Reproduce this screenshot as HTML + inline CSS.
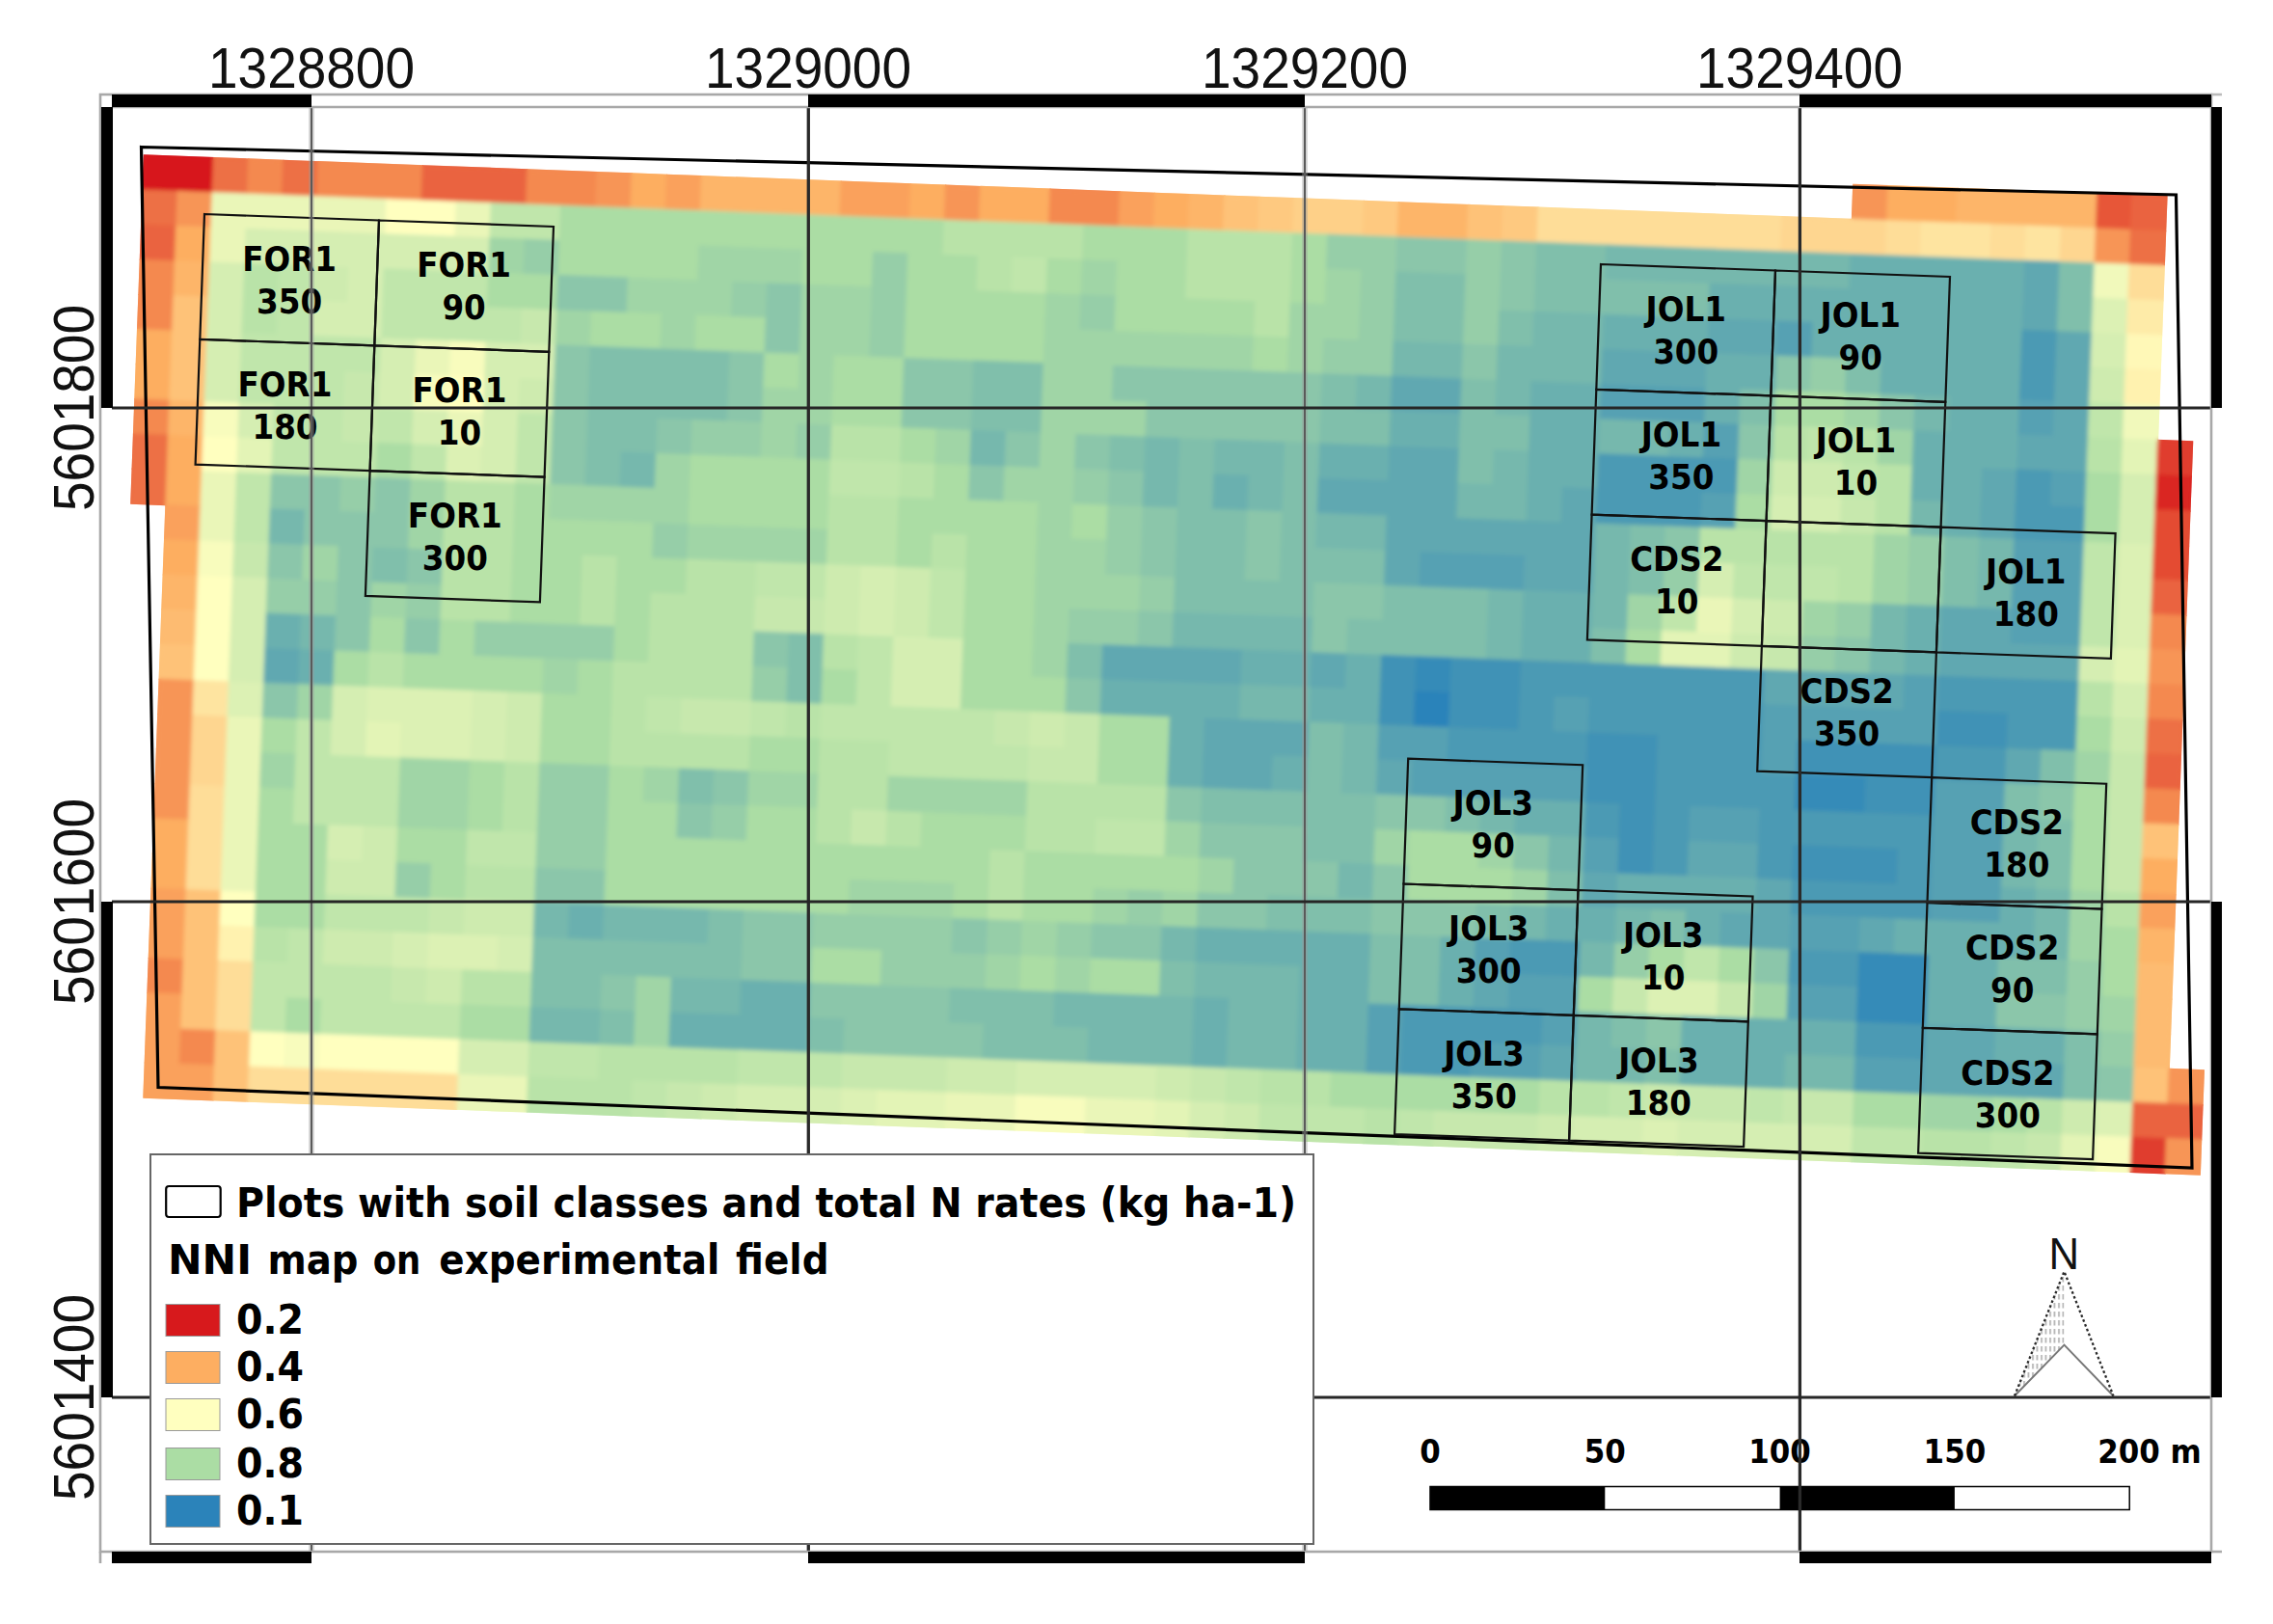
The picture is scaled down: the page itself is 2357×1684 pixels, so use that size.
<!DOCTYPE html>
<html lang="en"><head><meta charset="utf-8"><title>NNI map on experimental field</title>
<style>html,body{margin:0;padding:0;background:#fff}svg{display:block}.t{font-family:"Liberation Sans",sans-serif;font-size:55px;fill:#111}.b{font-family:"DejaVu Sans","Liberation Sans",sans-serif;font-weight:bold;fill:#000}.pl{font-size:35.5px;text-anchor:middle}.lg{font-size:42px}.sb{font-size:34px;text-anchor:middle}</style></head><body>
<svg width="2357" height="1684" viewBox="0 0 2357 1684">
<rect width="2357" height="1684" fill="#fff"/>
<defs><filter id="bl" x="-2%" y="-2%" width="104%" height="104%"><feGaussianBlur stdDeviation="2.2"/></filter>
<clipPath id="rc" transform="translate(148.8,160.3) rotate(2.15) scale(36.17)"><rect x="49" y="-1" width="9.03" height="1.03"/><rect x="0" y="0" width="58.03" height="1.03"/><rect x="0" y="1" width="58.03" height="1.03"/><rect x="0" y="2" width="58.03" height="1.03"/><rect x="0" y="3" width="58.03" height="1.03"/><rect x="0" y="4" width="58.03" height="1.03"/><rect x="0" y="5" width="58.03" height="1.03"/><rect x="0" y="6" width="59.03" height="1.03"/><rect x="0" y="7" width="59.03" height="1.03"/><rect x="0" y="8" width="59.03" height="1.03"/><rect x="0" y="9" width="59.03" height="1.03"/><rect x="1" y="10" width="58.03" height="1.03"/><rect x="1" y="11" width="58.03" height="1.03"/><rect x="1" y="12" width="58.03" height="1.03"/><rect x="1" y="13" width="58.03" height="1.03"/><rect x="1" y="14" width="58.03" height="1.03"/><rect x="1" y="15" width="58.03" height="1.03"/><rect x="1" y="16" width="58.03" height="1.03"/><rect x="1" y="17" width="58.03" height="1.03"/><rect x="1" y="18" width="58.03" height="1.03"/><rect x="1" y="19" width="58.03" height="1.03"/><rect x="1" y="20" width="58.03" height="1.03"/><rect x="1" y="21" width="58.03" height="1.03"/><rect x="1" y="22" width="58.03" height="1.03"/><rect x="1" y="23" width="58.03" height="1.03"/><rect x="1" y="24" width="59.03" height="1.03"/><rect x="1" y="25" width="59.03" height="1.03"/><rect x="1" y="26" width="59.03" height="1.03"/></clipPath></defs>
<g id="rs" transform="translate(148.8,160.3) rotate(2.15) scale(36.17)">
<rect x="49" y="-1" width="1.03" height="1.03" fill="#f79556"/>
<rect x="50" y="-1" width="2.03" height="1.03" fill="#fdae61"/>
<rect x="52" y="-1" width="4.03" height="1.03" fill="#fdb569"/>
<rect x="56" y="-1" width="1.03" height="1.03" fill="#e75739"/>
<rect x="57" y="-1" width="1.03" height="1.03" fill="#ea643f"/>
<rect x="0" y="0" width="2.03" height="1.03" fill="#d7191c"/>
<rect x="2" y="0" width="1.03" height="1.03" fill="#ed7044"/>
<rect x="3" y="0" width="1.03" height="1.03" fill="#f48950"/>
<rect x="4" y="0" width="1.03" height="1.03" fill="#ed7044"/>
<rect x="5" y="0" width="3.03" height="1.03" fill="#f48950"/>
<rect x="8" y="0" width="3.03" height="1.03" fill="#ea643f"/>
<rect x="11" y="0" width="2.03" height="1.03" fill="#f48950"/>
<rect x="13" y="0" width="1.03" height="1.03" fill="#f79556"/>
<rect x="14" y="0" width="1.03" height="1.03" fill="#fdae61"/>
<rect x="15" y="0" width="1.03" height="1.03" fill="#faa15b"/>
<rect x="16" y="0" width="4.03" height="1.03" fill="#fdb569"/>
<rect x="20" y="0" width="2.03" height="1.03" fill="#faa15b"/>
<rect x="22" y="0" width="1.03" height="1.03" fill="#fdae61"/>
<rect x="23" y="0" width="1.03" height="1.03" fill="#f79556"/>
<rect x="24" y="0" width="2.03" height="1.03" fill="#fdae61"/>
<rect x="26" y="0" width="2.03" height="1.03" fill="#f48950"/>
<rect x="28" y="0" width="1.03" height="1.03" fill="#faa15b"/>
<rect x="29" y="0" width="1.03" height="1.03" fill="#fdae61"/>
<rect x="30" y="0" width="1.03" height="1.03" fill="#fdb569"/>
<rect x="31" y="0" width="1.03" height="1.03" fill="#fec278"/>
<rect x="32" y="0" width="1.03" height="1.03" fill="#fec980"/>
<rect x="33" y="0" width="2.03" height="1.03" fill="#fed088"/>
<rect x="35" y="0" width="1.03" height="1.03" fill="#fec980"/>
<rect x="36" y="0" width="2.03" height="1.03" fill="#fdb569"/>
<rect x="38" y="0" width="1.03" height="1.03" fill="#fec278"/>
<rect x="39" y="0" width="1.03" height="1.03" fill="#fec980"/>
<rect x="40" y="0" width="7.03" height="1.03" fill="#fedd98"/>
<rect x="47" y="0" width="3.03" height="1.03" fill="#fed690"/>
<rect x="50" y="0" width="1.03" height="1.03" fill="#fedd98"/>
<rect x="51" y="0" width="2.03" height="1.03" fill="#fee4a0"/>
<rect x="53" y="0" width="1.03" height="1.03" fill="#fedd98"/>
<rect x="54" y="0" width="1.03" height="1.03" fill="#fee4a0"/>
<rect x="55" y="0" width="1.03" height="1.03" fill="#fed690"/>
<rect x="56" y="0" width="1.03" height="1.03" fill="#f79556"/>
<rect x="57" y="0" width="1.03" height="1.03" fill="#ed7044"/>
<rect x="0" y="1" width="1.03" height="1.03" fill="#ed7044"/>
<rect x="1" y="1" width="1.03" height="1.03" fill="#f79556"/>
<rect x="2" y="1" width="5.03" height="1.03" fill="#eaf6b8"/>
<rect x="7" y="1" width="2.03" height="1.03" fill="#ffffbf"/>
<rect x="9" y="1" width="1.03" height="1.03" fill="#eaf6b8"/>
<rect x="10" y="1" width="2.03" height="1.03" fill="#c0e6ab"/>
<rect x="12" y="1" width="11.03" height="1.03" fill="#abdda4"/>
<rect x="23" y="1" width="4.03" height="1.03" fill="#b9e3a8"/>
<rect x="27" y="1" width="3.03" height="1.03" fill="#abdda4"/>
<rect x="30" y="1" width="3.03" height="1.03" fill="#b9e3a8"/>
<rect x="33" y="1" width="1.03" height="1.03" fill="#abdda4"/>
<rect x="34" y="1" width="2.03" height="1.03" fill="#96cea8"/>
<rect x="36" y="1" width="2.03" height="1.03" fill="#8bc6aa"/>
<rect x="38" y="1" width="1.03" height="1.03" fill="#96cea8"/>
<rect x="39" y="1" width="1.03" height="1.03" fill="#8bc6aa"/>
<rect x="40" y="1" width="2.03" height="1.03" fill="#80bfab"/>
<rect x="42" y="1" width="7.03" height="1.03" fill="#76b8ad"/>
<rect x="49" y="1" width="5.03" height="1.03" fill="#6bb0af"/>
<rect x="54" y="1" width="1.03" height="1.03" fill="#60a8b1"/>
<rect x="55" y="1" width="1.03" height="1.03" fill="#80bfab"/>
<rect x="56" y="1" width="1.03" height="1.03" fill="#f1f9bb"/>
<rect x="57" y="1" width="1.03" height="1.03" fill="#fedd98"/>
<rect x="0" y="2" width="1.03" height="1.03" fill="#ea643f"/>
<rect x="1" y="2" width="1.03" height="1.03" fill="#fdae61"/>
<rect x="2" y="2" width="1.03" height="1.03" fill="#eaf6b8"/>
<rect x="3" y="2" width="7.03" height="1.03" fill="#d5eeb2"/>
<rect x="10" y="2" width="1.03" height="1.03" fill="#a0d5a6"/>
<rect x="11" y="2" width="1.03" height="1.03" fill="#96cea8"/>
<rect x="12" y="2" width="4.03" height="1.03" fill="#abdda4"/>
<rect x="16" y="2" width="3.03" height="1.03" fill="#a0d5a6"/>
<rect x="19" y="2" width="2.03" height="1.03" fill="#abdda4"/>
<rect x="21" y="2" width="1.03" height="1.03" fill="#96cea8"/>
<rect x="22" y="2" width="2.03" height="1.03" fill="#abdda4"/>
<rect x="24" y="2" width="1.03" height="1.03" fill="#b9e3a8"/>
<rect x="25" y="2" width="1.03" height="1.03" fill="#c0e6ab"/>
<rect x="26" y="2" width="1.03" height="1.03" fill="#abdda4"/>
<rect x="27" y="2" width="1.03" height="1.03" fill="#a0d5a6"/>
<rect x="28" y="2" width="2.03" height="1.03" fill="#abdda4"/>
<rect x="30" y="2" width="3.03" height="1.03" fill="#b9e3a8"/>
<rect x="33" y="2" width="1.03" height="1.03" fill="#abdda4"/>
<rect x="34" y="2" width="1.03" height="1.03" fill="#a0d5a6"/>
<rect x="35" y="2" width="1.03" height="1.03" fill="#96cea8"/>
<rect x="36" y="2" width="2.03" height="1.03" fill="#80bfab"/>
<rect x="38" y="2" width="1.03" height="1.03" fill="#96cea8"/>
<rect x="39" y="2" width="1.03" height="1.03" fill="#8bc6aa"/>
<rect x="40" y="2" width="5.03" height="1.03" fill="#80bfab"/>
<rect x="45" y="2" width="9.03" height="1.03" fill="#6bb0af"/>
<rect x="54" y="2" width="1.03" height="1.03" fill="#60a8b1"/>
<rect x="55" y="2" width="1.03" height="1.03" fill="#80bfab"/>
<rect x="56" y="2" width="1.03" height="1.03" fill="#dcf1b4"/>
<rect x="57" y="2" width="1.03" height="1.03" fill="#feeba8"/>
<rect x="0" y="3" width="1.03" height="1.03" fill="#f48950"/>
<rect x="1" y="3" width="1.03" height="1.03" fill="#fdb569"/>
<rect x="2" y="3" width="1.03" height="1.03" fill="#d5eeb2"/>
<rect x="3" y="3" width="1.03" height="1.03" fill="#b9e3a8"/>
<rect x="4" y="3" width="1.03" height="1.03" fill="#c0e6ab"/>
<rect x="5" y="3" width="1.03" height="1.03" fill="#ceebaf"/>
<rect x="6" y="3" width="1.03" height="1.03" fill="#d5eeb2"/>
<rect x="7" y="3" width="3.03" height="1.03" fill="#c0e6ab"/>
<rect x="10" y="3" width="2.03" height="1.03" fill="#abdda4"/>
<rect x="12" y="3" width="2.03" height="1.03" fill="#8bc6aa"/>
<rect x="14" y="3" width="3.03" height="1.03" fill="#a0d5a6"/>
<rect x="17" y="3" width="1.03" height="1.03" fill="#96cea8"/>
<rect x="18" y="3" width="1.03" height="1.03" fill="#8bc6aa"/>
<rect x="19" y="3" width="2.03" height="1.03" fill="#a0d5a6"/>
<rect x="21" y="3" width="1.03" height="1.03" fill="#96cea8"/>
<rect x="22" y="3" width="4.03" height="1.03" fill="#abdda4"/>
<rect x="26" y="3" width="1.03" height="1.03" fill="#a0d5a6"/>
<rect x="27" y="3" width="1.03" height="1.03" fill="#96cea8"/>
<rect x="28" y="3" width="4.03" height="1.03" fill="#abdda4"/>
<rect x="32" y="3" width="1.03" height="1.03" fill="#b9e3a8"/>
<rect x="33" y="3" width="2.03" height="1.03" fill="#a0d5a6"/>
<rect x="35" y="3" width="1.03" height="1.03" fill="#96cea8"/>
<rect x="36" y="3" width="2.03" height="1.03" fill="#80bfab"/>
<rect x="38" y="3" width="1.03" height="1.03" fill="#96cea8"/>
<rect x="39" y="3" width="1.03" height="1.03" fill="#80bfab"/>
<rect x="40" y="3" width="2.03" height="1.03" fill="#76b8ad"/>
<rect x="42" y="3" width="3.03" height="1.03" fill="#6bb0af"/>
<rect x="45" y="3" width="2.03" height="1.03" fill="#60a8b1"/>
<rect x="47" y="3" width="1.03" height="1.03" fill="#56a1b3"/>
<rect x="48" y="3" width="6.03" height="1.03" fill="#6bb0af"/>
<rect x="54" y="3" width="1.03" height="1.03" fill="#4b9ab4"/>
<rect x="55" y="3" width="1.03" height="1.03" fill="#60a8b1"/>
<rect x="56" y="3" width="1.03" height="1.03" fill="#d5eeb2"/>
<rect x="57" y="3" width="1.03" height="1.03" fill="#fff8b7"/>
<rect x="0" y="4" width="1.03" height="1.03" fill="#f48950"/>
<rect x="1" y="4" width="1.03" height="1.03" fill="#fec278"/>
<rect x="2" y="4" width="1.03" height="1.03" fill="#d5eeb2"/>
<rect x="3" y="4" width="1.03" height="1.03" fill="#b9e3a8"/>
<rect x="4" y="4" width="1.03" height="1.03" fill="#c0e6ab"/>
<rect x="5" y="4" width="2.03" height="1.03" fill="#d5eeb2"/>
<rect x="7" y="4" width="4.03" height="1.03" fill="#c0e6ab"/>
<rect x="11" y="4" width="1.03" height="1.03" fill="#c7e8ad"/>
<rect x="12" y="4" width="1.03" height="1.03" fill="#a0d5a6"/>
<rect x="13" y="4" width="2.03" height="1.03" fill="#abdda4"/>
<rect x="15" y="4" width="1.03" height="1.03" fill="#a0d5a6"/>
<rect x="16" y="4" width="2.03" height="1.03" fill="#abdda4"/>
<rect x="18" y="4" width="1.03" height="1.03" fill="#8bc6aa"/>
<rect x="19" y="4" width="2.03" height="1.03" fill="#a0d5a6"/>
<rect x="21" y="4" width="1.03" height="1.03" fill="#96cea8"/>
<rect x="22" y="4" width="4.03" height="1.03" fill="#abdda4"/>
<rect x="26" y="4" width="6.03" height="1.03" fill="#a0d5a6"/>
<rect x="32" y="4" width="1.03" height="1.03" fill="#abdda4"/>
<rect x="33" y="4" width="1.03" height="1.03" fill="#a0d5a6"/>
<rect x="34" y="4" width="2.03" height="1.03" fill="#96cea8"/>
<rect x="36" y="4" width="2.03" height="1.03" fill="#76b8ad"/>
<rect x="38" y="4" width="1.03" height="1.03" fill="#8bc6aa"/>
<rect x="39" y="4" width="3.03" height="1.03" fill="#76b8ad"/>
<rect x="42" y="4" width="3.03" height="1.03" fill="#60a8b1"/>
<rect x="45" y="4" width="2.03" height="1.03" fill="#6bb0af"/>
<rect x="47" y="4" width="1.03" height="1.03" fill="#8bc6aa"/>
<rect x="48" y="4" width="1.03" height="1.03" fill="#96cea8"/>
<rect x="49" y="4" width="1.03" height="1.03" fill="#80bfab"/>
<rect x="50" y="4" width="4.03" height="1.03" fill="#6bb0af"/>
<rect x="54" y="4" width="1.03" height="1.03" fill="#4b9ab4"/>
<rect x="55" y="4" width="1.03" height="1.03" fill="#60a8b1"/>
<rect x="56" y="4" width="1.03" height="1.03" fill="#ceebaf"/>
<rect x="57" y="4" width="1.03" height="1.03" fill="#fff2af"/>
<rect x="0" y="5" width="1.03" height="1.03" fill="#fdae61"/>
<rect x="1" y="5" width="1.03" height="1.03" fill="#fec278"/>
<rect x="2" y="5" width="1.03" height="1.03" fill="#d5eeb2"/>
<rect x="3" y="5" width="4.03" height="1.03" fill="#c0e6ab"/>
<rect x="7" y="5" width="1.03" height="1.03" fill="#d5eeb2"/>
<rect x="8" y="5" width="1.03" height="1.03" fill="#eaf6b8"/>
<rect x="9" y="5" width="1.03" height="1.03" fill="#f8fcbd"/>
<rect x="10" y="5" width="2.03" height="1.03" fill="#d5eeb2"/>
<rect x="12" y="5" width="1.03" height="1.03" fill="#8bc6aa"/>
<rect x="13" y="5" width="4.03" height="1.03" fill="#80bfab"/>
<rect x="17" y="5" width="1.03" height="1.03" fill="#8bc6aa"/>
<rect x="18" y="5" width="1.03" height="1.03" fill="#abdda4"/>
<rect x="19" y="5" width="1.03" height="1.03" fill="#a0d5a6"/>
<rect x="20" y="5" width="2.03" height="1.03" fill="#abdda4"/>
<rect x="22" y="5" width="2.03" height="1.03" fill="#8bc6aa"/>
<rect x="24" y="5" width="2.03" height="1.03" fill="#80bfab"/>
<rect x="26" y="5" width="2.03" height="1.03" fill="#a0d5a6"/>
<rect x="28" y="5" width="6.03" height="1.03" fill="#8bc6aa"/>
<rect x="34" y="5" width="1.03" height="1.03" fill="#80bfab"/>
<rect x="35" y="5" width="1.03" height="1.03" fill="#76b8ad"/>
<rect x="36" y="5" width="2.03" height="1.03" fill="#60a8b1"/>
<rect x="38" y="5" width="1.03" height="1.03" fill="#80bfab"/>
<rect x="39" y="5" width="1.03" height="1.03" fill="#76b8ad"/>
<rect x="40" y="5" width="2.03" height="1.03" fill="#6bb0af"/>
<rect x="42" y="5" width="3.03" height="1.03" fill="#56a1b3"/>
<rect x="45" y="5" width="1.03" height="1.03" fill="#6bb0af"/>
<rect x="46" y="5" width="1.03" height="1.03" fill="#80bfab"/>
<rect x="47" y="5" width="2.03" height="1.03" fill="#abdda4"/>
<rect x="49" y="5" width="1.03" height="1.03" fill="#a0d5a6"/>
<rect x="50" y="5" width="1.03" height="1.03" fill="#8bc6aa"/>
<rect x="51" y="5" width="1.03" height="1.03" fill="#76b8ad"/>
<rect x="52" y="5" width="2.03" height="1.03" fill="#6bb0af"/>
<rect x="54" y="5" width="1.03" height="1.03" fill="#56a1b3"/>
<rect x="55" y="5" width="1.03" height="1.03" fill="#60a8b1"/>
<rect x="56" y="5" width="1.03" height="1.03" fill="#c0e6ab"/>
<rect x="57" y="5" width="1.03" height="1.03" fill="#f1f9bb"/>
<rect x="0" y="6" width="1.03" height="1.03" fill="#fdae61"/>
<rect x="1" y="6" width="1.03" height="1.03" fill="#fec278"/>
<rect x="2" y="6" width="1.03" height="1.03" fill="#d5eeb2"/>
<rect x="3" y="6" width="3.03" height="1.03" fill="#c0e6ab"/>
<rect x="6" y="6" width="1.03" height="1.03" fill="#c7e8ad"/>
<rect x="7" y="6" width="1.03" height="1.03" fill="#d5eeb2"/>
<rect x="8" y="6" width="1.03" height="1.03" fill="#f8fcbd"/>
<rect x="9" y="6" width="1.03" height="1.03" fill="#ffffbf"/>
<rect x="10" y="6" width="1.03" height="1.03" fill="#d5eeb2"/>
<rect x="11" y="6" width="1.03" height="1.03" fill="#ceebaf"/>
<rect x="12" y="6" width="1.03" height="1.03" fill="#8bc6aa"/>
<rect x="13" y="6" width="4.03" height="1.03" fill="#80bfab"/>
<rect x="17" y="6" width="1.03" height="1.03" fill="#8bc6aa"/>
<rect x="18" y="6" width="2.03" height="1.03" fill="#a0d5a6"/>
<rect x="20" y="6" width="2.03" height="1.03" fill="#abdda4"/>
<rect x="22" y="6" width="2.03" height="1.03" fill="#8bc6aa"/>
<rect x="24" y="6" width="2.03" height="1.03" fill="#80bfab"/>
<rect x="26" y="6" width="3.03" height="1.03" fill="#a0d5a6"/>
<rect x="29" y="6" width="5.03" height="1.03" fill="#8bc6aa"/>
<rect x="34" y="6" width="2.03" height="1.03" fill="#80bfab"/>
<rect x="36" y="6" width="2.03" height="1.03" fill="#6bb0af"/>
<rect x="38" y="6" width="2.03" height="1.03" fill="#80bfab"/>
<rect x="40" y="6" width="2.03" height="1.03" fill="#6bb0af"/>
<rect x="42" y="6" width="2.03" height="1.03" fill="#76b8ad"/>
<rect x="44" y="6" width="1.03" height="1.03" fill="#6bb0af"/>
<rect x="45" y="6" width="1.03" height="1.03" fill="#56a1b3"/>
<rect x="46" y="6" width="1.03" height="1.03" fill="#8bc6aa"/>
<rect x="47" y="6" width="1.03" height="1.03" fill="#b9e3a8"/>
<rect x="48" y="6" width="1.03" height="1.03" fill="#c0e6ab"/>
<rect x="49" y="6" width="1.03" height="1.03" fill="#b9e3a8"/>
<rect x="50" y="6" width="1.03" height="1.03" fill="#a0d5a6"/>
<rect x="51" y="6" width="3.03" height="1.03" fill="#6bb0af"/>
<rect x="54" y="6" width="2.03" height="1.03" fill="#60a8b1"/>
<rect x="56" y="6" width="1.03" height="1.03" fill="#b9e3a8"/>
<rect x="57" y="6" width="1.03" height="1.03" fill="#e3f4b6"/>
<rect x="58" y="6" width="1.03" height="1.03" fill="#e03e2d"/>
<rect x="0" y="7" width="1.03" height="1.03" fill="#f48950"/>
<rect x="1" y="7" width="1.03" height="1.03" fill="#fdb569"/>
<rect x="2" y="7" width="1.03" height="1.03" fill="#f8fcbd"/>
<rect x="3" y="7" width="1.03" height="1.03" fill="#d5eeb2"/>
<rect x="4" y="7" width="2.03" height="1.03" fill="#c0e6ab"/>
<rect x="6" y="7" width="1.03" height="1.03" fill="#c7e8ad"/>
<rect x="7" y="7" width="1.03" height="1.03" fill="#c0e6ab"/>
<rect x="8" y="7" width="1.03" height="1.03" fill="#d5eeb2"/>
<rect x="9" y="7" width="1.03" height="1.03" fill="#eaf6b8"/>
<rect x="10" y="7" width="1.03" height="1.03" fill="#d5eeb2"/>
<rect x="11" y="7" width="1.03" height="1.03" fill="#c0e6ab"/>
<rect x="12" y="7" width="1.03" height="1.03" fill="#8bc6aa"/>
<rect x="13" y="7" width="2.03" height="1.03" fill="#80bfab"/>
<rect x="15" y="7" width="1.03" height="1.03" fill="#8bc6aa"/>
<rect x="16" y="7" width="2.03" height="1.03" fill="#96cea8"/>
<rect x="18" y="7" width="1.03" height="1.03" fill="#a0d5a6"/>
<rect x="19" y="7" width="1.03" height="1.03" fill="#96cea8"/>
<rect x="20" y="7" width="2.03" height="1.03" fill="#b9e3a8"/>
<rect x="22" y="7" width="1.03" height="1.03" fill="#abdda4"/>
<rect x="23" y="7" width="1.03" height="1.03" fill="#a0d5a6"/>
<rect x="24" y="7" width="1.03" height="1.03" fill="#76b8ad"/>
<rect x="25" y="7" width="1.03" height="1.03" fill="#8bc6aa"/>
<rect x="26" y="7" width="1.03" height="1.03" fill="#a0d5a6"/>
<rect x="27" y="7" width="1.03" height="1.03" fill="#8bc6aa"/>
<rect x="28" y="7" width="1.03" height="1.03" fill="#80bfab"/>
<rect x="29" y="7" width="1.03" height="1.03" fill="#76b8ad"/>
<rect x="30" y="7" width="1.03" height="1.03" fill="#80bfab"/>
<rect x="31" y="7" width="2.03" height="1.03" fill="#76b8ad"/>
<rect x="33" y="7" width="1.03" height="1.03" fill="#80bfab"/>
<rect x="34" y="7" width="2.03" height="1.03" fill="#6bb0af"/>
<rect x="36" y="7" width="2.03" height="1.03" fill="#60a8b1"/>
<rect x="38" y="7" width="1.03" height="1.03" fill="#80bfab"/>
<rect x="39" y="7" width="1.03" height="1.03" fill="#76b8ad"/>
<rect x="40" y="7" width="2.03" height="1.03" fill="#6bb0af"/>
<rect x="42" y="7" width="4.03" height="1.03" fill="#4b9ab4"/>
<rect x="46" y="7" width="1.03" height="1.03" fill="#a0d5a6"/>
<rect x="47" y="7" width="2.03" height="1.03" fill="#ceebaf"/>
<rect x="49" y="7" width="1.03" height="1.03" fill="#c0e6ab"/>
<rect x="50" y="7" width="1.03" height="1.03" fill="#b9e3a8"/>
<rect x="51" y="7" width="2.03" height="1.03" fill="#6bb0af"/>
<rect x="53" y="7" width="1.03" height="1.03" fill="#60a8b1"/>
<rect x="54" y="7" width="1.03" height="1.03" fill="#4b9ab4"/>
<rect x="55" y="7" width="1.03" height="1.03" fill="#56a1b3"/>
<rect x="56" y="7" width="1.03" height="1.03" fill="#abdda4"/>
<rect x="57" y="7" width="1.03" height="1.03" fill="#d5eeb2"/>
<rect x="58" y="7" width="1.03" height="1.03" fill="#da2622"/>
<rect x="0" y="8" width="1.03" height="1.03" fill="#ed7044"/>
<rect x="1" y="8" width="1.03" height="1.03" fill="#fdae61"/>
<rect x="2" y="8" width="1.03" height="1.03" fill="#ffffbf"/>
<rect x="3" y="8" width="1.03" height="1.03" fill="#e3f4b6"/>
<rect x="4" y="8" width="3.03" height="1.03" fill="#c0e6ab"/>
<rect x="7" y="8" width="1.03" height="1.03" fill="#abdda4"/>
<rect x="8" y="8" width="1.03" height="1.03" fill="#c0e6ab"/>
<rect x="9" y="8" width="1.03" height="1.03" fill="#dcf1b4"/>
<rect x="10" y="8" width="1.03" height="1.03" fill="#d5eeb2"/>
<rect x="11" y="8" width="1.03" height="1.03" fill="#c0e6ab"/>
<rect x="12" y="8" width="1.03" height="1.03" fill="#8bc6aa"/>
<rect x="13" y="8" width="1.03" height="1.03" fill="#80bfab"/>
<rect x="14" y="8" width="1.03" height="1.03" fill="#76b8ad"/>
<rect x="15" y="8" width="1.03" height="1.03" fill="#a0d5a6"/>
<rect x="16" y="8" width="4.03" height="1.03" fill="#abdda4"/>
<rect x="20" y="8" width="2.03" height="1.03" fill="#c0e6ab"/>
<rect x="22" y="8" width="1.03" height="1.03" fill="#b9e3a8"/>
<rect x="23" y="8" width="1.03" height="1.03" fill="#abdda4"/>
<rect x="24" y="8" width="1.03" height="1.03" fill="#8bc6aa"/>
<rect x="25" y="8" width="2.03" height="1.03" fill="#a0d5a6"/>
<rect x="27" y="8" width="1.03" height="1.03" fill="#96cea8"/>
<rect x="28" y="8" width="1.03" height="1.03" fill="#8bc6aa"/>
<rect x="29" y="8" width="1.03" height="1.03" fill="#76b8ad"/>
<rect x="30" y="8" width="1.03" height="1.03" fill="#80bfab"/>
<rect x="31" y="8" width="1.03" height="1.03" fill="#6bb0af"/>
<rect x="32" y="8" width="1.03" height="1.03" fill="#76b8ad"/>
<rect x="33" y="8" width="1.03" height="1.03" fill="#80bfab"/>
<rect x="34" y="8" width="4.03" height="1.03" fill="#60a8b1"/>
<rect x="38" y="8" width="2.03" height="1.03" fill="#76b8ad"/>
<rect x="40" y="8" width="1.03" height="1.03" fill="#6bb0af"/>
<rect x="41" y="8" width="1.03" height="1.03" fill="#60a8b1"/>
<rect x="42" y="8" width="3.03" height="1.03" fill="#4b9ab4"/>
<rect x="45" y="8" width="1.03" height="1.03" fill="#56a1b3"/>
<rect x="46" y="8" width="1.03" height="1.03" fill="#abdda4"/>
<rect x="47" y="8" width="2.03" height="1.03" fill="#d5eeb2"/>
<rect x="49" y="8" width="1.03" height="1.03" fill="#c7e8ad"/>
<rect x="50" y="8" width="1.03" height="1.03" fill="#b9e3a8"/>
<rect x="51" y="8" width="1.03" height="1.03" fill="#76b8ad"/>
<rect x="52" y="8" width="1.03" height="1.03" fill="#6bb0af"/>
<rect x="53" y="8" width="1.03" height="1.03" fill="#60a8b1"/>
<rect x="54" y="8" width="2.03" height="1.03" fill="#4b9ab4"/>
<rect x="56" y="8" width="1.03" height="1.03" fill="#abdda4"/>
<rect x="57" y="8" width="1.03" height="1.03" fill="#d5eeb2"/>
<rect x="58" y="8" width="1.03" height="1.03" fill="#e44b33"/>
<rect x="0" y="9" width="1.03" height="1.03" fill="#ed7044"/>
<rect x="1" y="9" width="1.03" height="1.03" fill="#fdae61"/>
<rect x="2" y="9" width="1.03" height="1.03" fill="#eaf6b8"/>
<rect x="3" y="9" width="1.03" height="1.03" fill="#c0e6ab"/>
<rect x="4" y="9" width="2.03" height="1.03" fill="#8bc6aa"/>
<rect x="6" y="9" width="1.03" height="1.03" fill="#96cea8"/>
<rect x="7" y="9" width="1.03" height="1.03" fill="#8bc6aa"/>
<rect x="8" y="9" width="1.03" height="1.03" fill="#a0d5a6"/>
<rect x="9" y="9" width="2.03" height="1.03" fill="#b9e3a8"/>
<rect x="11" y="9" width="1.03" height="1.03" fill="#abdda4"/>
<rect x="12" y="9" width="4.03" height="1.03" fill="#a0d5a6"/>
<rect x="16" y="9" width="4.03" height="1.03" fill="#abdda4"/>
<rect x="20" y="9" width="2.03" height="1.03" fill="#b9e3a8"/>
<rect x="22" y="9" width="4.03" height="1.03" fill="#abdda4"/>
<rect x="26" y="9" width="1.03" height="1.03" fill="#a0d5a6"/>
<rect x="27" y="9" width="1.03" height="1.03" fill="#abdda4"/>
<rect x="28" y="9" width="1.03" height="1.03" fill="#96cea8"/>
<rect x="29" y="9" width="1.03" height="1.03" fill="#8bc6aa"/>
<rect x="30" y="9" width="2.03" height="1.03" fill="#80bfab"/>
<rect x="32" y="9" width="1.03" height="1.03" fill="#8bc6aa"/>
<rect x="33" y="9" width="1.03" height="1.03" fill="#80bfab"/>
<rect x="34" y="9" width="2.03" height="1.03" fill="#76b8ad"/>
<rect x="36" y="9" width="6.03" height="1.03" fill="#60a8b1"/>
<rect x="42" y="9" width="1.03" height="1.03" fill="#76b8ad"/>
<rect x="43" y="9" width="1.03" height="1.03" fill="#80bfab"/>
<rect x="44" y="9" width="1.03" height="1.03" fill="#8bc6aa"/>
<rect x="45" y="9" width="5.03" height="1.03" fill="#b9e3a8"/>
<rect x="50" y="9" width="1.03" height="1.03" fill="#a0d5a6"/>
<rect x="51" y="9" width="1.03" height="1.03" fill="#96cea8"/>
<rect x="52" y="9" width="1.03" height="1.03" fill="#80bfab"/>
<rect x="53" y="9" width="1.03" height="1.03" fill="#76b8ad"/>
<rect x="54" y="9" width="2.03" height="1.03" fill="#56a1b3"/>
<rect x="56" y="9" width="1.03" height="1.03" fill="#c0e6ab"/>
<rect x="57" y="9" width="1.03" height="1.03" fill="#dcf1b4"/>
<rect x="58" y="9" width="1.03" height="1.03" fill="#e44b33"/>
<rect x="1" y="10" width="1.03" height="1.03" fill="#faa15b"/>
<rect x="2" y="10" width="1.03" height="1.03" fill="#eaf6b8"/>
<rect x="3" y="10" width="1.03" height="1.03" fill="#c0e6ab"/>
<rect x="4" y="10" width="1.03" height="1.03" fill="#76b8ad"/>
<rect x="5" y="10" width="3.03" height="1.03" fill="#8bc6aa"/>
<rect x="8" y="10" width="1.03" height="1.03" fill="#a0d5a6"/>
<rect x="9" y="10" width="2.03" height="1.03" fill="#b9e3a8"/>
<rect x="11" y="10" width="4.03" height="1.03" fill="#abdda4"/>
<rect x="15" y="10" width="1.03" height="1.03" fill="#96cea8"/>
<rect x="16" y="10" width="4.03" height="1.03" fill="#a0d5a6"/>
<rect x="20" y="10" width="2.03" height="1.03" fill="#b9e3a8"/>
<rect x="22" y="10" width="1.03" height="1.03" fill="#abdda4"/>
<rect x="23" y="10" width="1.03" height="1.03" fill="#b9e3a8"/>
<rect x="24" y="10" width="2.03" height="1.03" fill="#abdda4"/>
<rect x="26" y="10" width="2.03" height="1.03" fill="#a0d5a6"/>
<rect x="28" y="10" width="1.03" height="1.03" fill="#96cea8"/>
<rect x="29" y="10" width="1.03" height="1.03" fill="#8bc6aa"/>
<rect x="30" y="10" width="2.03" height="1.03" fill="#80bfab"/>
<rect x="32" y="10" width="1.03" height="1.03" fill="#8bc6aa"/>
<rect x="33" y="10" width="3.03" height="1.03" fill="#80bfab"/>
<rect x="36" y="10" width="1.03" height="1.03" fill="#60a8b1"/>
<rect x="37" y="10" width="3.03" height="1.03" fill="#56a1b3"/>
<rect x="40" y="10" width="2.03" height="1.03" fill="#60a8b1"/>
<rect x="42" y="10" width="1.03" height="1.03" fill="#76b8ad"/>
<rect x="43" y="10" width="1.03" height="1.03" fill="#80bfab"/>
<rect x="44" y="10" width="1.03" height="1.03" fill="#96cea8"/>
<rect x="45" y="10" width="1.03" height="1.03" fill="#d5eeb2"/>
<rect x="46" y="10" width="3.03" height="1.03" fill="#c0e6ab"/>
<rect x="49" y="10" width="1.03" height="1.03" fill="#b9e3a8"/>
<rect x="50" y="10" width="1.03" height="1.03" fill="#a0d5a6"/>
<rect x="51" y="10" width="1.03" height="1.03" fill="#96cea8"/>
<rect x="52" y="10" width="1.03" height="1.03" fill="#80bfab"/>
<rect x="53" y="10" width="1.03" height="1.03" fill="#76b8ad"/>
<rect x="54" y="10" width="2.03" height="1.03" fill="#56a1b3"/>
<rect x="56" y="10" width="1.03" height="1.03" fill="#c0e6ab"/>
<rect x="57" y="10" width="1.03" height="1.03" fill="#dcf1b4"/>
<rect x="58" y="10" width="1.03" height="1.03" fill="#ea643f"/>
<rect x="1" y="11" width="1.03" height="1.03" fill="#fdae61"/>
<rect x="2" y="11" width="1.03" height="1.03" fill="#f8fcbd"/>
<rect x="3" y="11" width="1.03" height="1.03" fill="#c7e8ad"/>
<rect x="4" y="11" width="1.03" height="1.03" fill="#8bc6aa"/>
<rect x="5" y="11" width="1.03" height="1.03" fill="#a0d5a6"/>
<rect x="6" y="11" width="1.03" height="1.03" fill="#8bc6aa"/>
<rect x="7" y="11" width="1.03" height="1.03" fill="#80bfab"/>
<rect x="8" y="11" width="1.03" height="1.03" fill="#8bc6aa"/>
<rect x="9" y="11" width="2.03" height="1.03" fill="#b9e3a8"/>
<rect x="11" y="11" width="2.03" height="1.03" fill="#abdda4"/>
<rect x="13" y="11" width="1.03" height="1.03" fill="#b9e3a8"/>
<rect x="14" y="11" width="2.03" height="1.03" fill="#abdda4"/>
<rect x="16" y="11" width="2.03" height="1.03" fill="#b9e3a8"/>
<rect x="18" y="11" width="2.03" height="1.03" fill="#c0e6ab"/>
<rect x="20" y="11" width="1.03" height="1.03" fill="#ceebaf"/>
<rect x="21" y="11" width="1.03" height="1.03" fill="#d5eeb2"/>
<rect x="22" y="11" width="1.03" height="1.03" fill="#ceebaf"/>
<rect x="23" y="11" width="1.03" height="1.03" fill="#c0e6ab"/>
<rect x="24" y="11" width="2.03" height="1.03" fill="#abdda4"/>
<rect x="26" y="11" width="3.03" height="1.03" fill="#a0d5a6"/>
<rect x="29" y="11" width="1.03" height="1.03" fill="#96cea8"/>
<rect x="30" y="11" width="4.03" height="1.03" fill="#80bfab"/>
<rect x="34" y="11" width="2.03" height="1.03" fill="#8bc6aa"/>
<rect x="36" y="11" width="3.03" height="1.03" fill="#80bfab"/>
<rect x="39" y="11" width="1.03" height="1.03" fill="#76b8ad"/>
<rect x="40" y="11" width="2.03" height="1.03" fill="#6bb0af"/>
<rect x="42" y="11" width="1.03" height="1.03" fill="#76b8ad"/>
<rect x="43" y="11" width="1.03" height="1.03" fill="#a0d5a6"/>
<rect x="44" y="11" width="1.03" height="1.03" fill="#c0e6ab"/>
<rect x="45" y="11" width="1.03" height="1.03" fill="#eaf6b8"/>
<rect x="46" y="11" width="1.03" height="1.03" fill="#d5eeb2"/>
<rect x="47" y="11" width="1.03" height="1.03" fill="#ceebaf"/>
<rect x="48" y="11" width="1.03" height="1.03" fill="#a0d5a6"/>
<rect x="49" y="11" width="1.03" height="1.03" fill="#96cea8"/>
<rect x="50" y="11" width="1.03" height="1.03" fill="#76b8ad"/>
<rect x="51" y="11" width="1.03" height="1.03" fill="#6bb0af"/>
<rect x="52" y="11" width="2.03" height="1.03" fill="#60a8b1"/>
<rect x="54" y="11" width="2.03" height="1.03" fill="#56a1b3"/>
<rect x="56" y="11" width="1.03" height="1.03" fill="#c0e6ab"/>
<rect x="57" y="11" width="1.03" height="1.03" fill="#dcf1b4"/>
<rect x="58" y="11" width="1.03" height="1.03" fill="#f48950"/>
<rect x="1" y="12" width="1.03" height="1.03" fill="#fdb569"/>
<rect x="2" y="12" width="1.03" height="1.03" fill="#ffffbf"/>
<rect x="3" y="12" width="1.03" height="1.03" fill="#d5eeb2"/>
<rect x="4" y="12" width="2.03" height="1.03" fill="#96cea8"/>
<rect x="6" y="12" width="1.03" height="1.03" fill="#8bc6aa"/>
<rect x="7" y="12" width="1.03" height="1.03" fill="#a0d5a6"/>
<rect x="8" y="12" width="1.03" height="1.03" fill="#96cea8"/>
<rect x="9" y="12" width="2.03" height="1.03" fill="#b9e3a8"/>
<rect x="11" y="12" width="2.03" height="1.03" fill="#abdda4"/>
<rect x="13" y="12" width="1.03" height="1.03" fill="#b9e3a8"/>
<rect x="14" y="12" width="1.03" height="1.03" fill="#abdda4"/>
<rect x="15" y="12" width="3.03" height="1.03" fill="#b9e3a8"/>
<rect x="18" y="12" width="2.03" height="1.03" fill="#c7e8ad"/>
<rect x="20" y="12" width="1.03" height="1.03" fill="#ceebaf"/>
<rect x="21" y="12" width="1.03" height="1.03" fill="#d5eeb2"/>
<rect x="22" y="12" width="1.03" height="1.03" fill="#ceebaf"/>
<rect x="23" y="12" width="1.03" height="1.03" fill="#c0e6ab"/>
<rect x="24" y="12" width="2.03" height="1.03" fill="#abdda4"/>
<rect x="26" y="12" width="1.03" height="1.03" fill="#a0d5a6"/>
<rect x="27" y="12" width="2.03" height="1.03" fill="#96cea8"/>
<rect x="29" y="12" width="1.03" height="1.03" fill="#8bc6aa"/>
<rect x="30" y="12" width="4.03" height="1.03" fill="#76b8ad"/>
<rect x="34" y="12" width="1.03" height="1.03" fill="#8bc6aa"/>
<rect x="35" y="12" width="4.03" height="1.03" fill="#80bfab"/>
<rect x="39" y="12" width="1.03" height="1.03" fill="#76b8ad"/>
<rect x="40" y="12" width="2.03" height="1.03" fill="#6bb0af"/>
<rect x="42" y="12" width="1.03" height="1.03" fill="#80bfab"/>
<rect x="43" y="12" width="1.03" height="1.03" fill="#abdda4"/>
<rect x="44" y="12" width="2.03" height="1.03" fill="#e3f4b6"/>
<rect x="46" y="12" width="1.03" height="1.03" fill="#ceebaf"/>
<rect x="47" y="12" width="1.03" height="1.03" fill="#c7e8ad"/>
<rect x="48" y="12" width="1.03" height="1.03" fill="#96cea8"/>
<rect x="49" y="12" width="1.03" height="1.03" fill="#8bc6aa"/>
<rect x="50" y="12" width="1.03" height="1.03" fill="#76b8ad"/>
<rect x="51" y="12" width="1.03" height="1.03" fill="#6bb0af"/>
<rect x="52" y="12" width="4.03" height="1.03" fill="#60a8b1"/>
<rect x="56" y="12" width="1.03" height="1.03" fill="#d5eeb2"/>
<rect x="57" y="12" width="1.03" height="1.03" fill="#e3f4b6"/>
<rect x="58" y="12" width="1.03" height="1.03" fill="#f79556"/>
<rect x="1" y="13" width="1.03" height="1.03" fill="#fdbb71"/>
<rect x="2" y="13" width="1.03" height="1.03" fill="#ffffbf"/>
<rect x="3" y="13" width="1.03" height="1.03" fill="#d5eeb2"/>
<rect x="4" y="13" width="1.03" height="1.03" fill="#6bb0af"/>
<rect x="5" y="13" width="1.03" height="1.03" fill="#76b8ad"/>
<rect x="6" y="13" width="1.03" height="1.03" fill="#8bc6aa"/>
<rect x="7" y="13" width="1.03" height="1.03" fill="#abdda4"/>
<rect x="8" y="13" width="1.03" height="1.03" fill="#8bc6aa"/>
<rect x="9" y="13" width="1.03" height="1.03" fill="#abdda4"/>
<rect x="10" y="13" width="4.03" height="1.03" fill="#96cea8"/>
<rect x="14" y="13" width="1.03" height="1.03" fill="#abdda4"/>
<rect x="15" y="13" width="3.03" height="1.03" fill="#b9e3a8"/>
<rect x="18" y="13" width="1.03" height="1.03" fill="#8bc6aa"/>
<rect x="19" y="13" width="1.03" height="1.03" fill="#80bfab"/>
<rect x="20" y="13" width="1.03" height="1.03" fill="#b9e3a8"/>
<rect x="21" y="13" width="1.03" height="1.03" fill="#c0e6ab"/>
<rect x="22" y="13" width="2.03" height="1.03" fill="#d5eeb2"/>
<rect x="24" y="13" width="2.03" height="1.03" fill="#abdda4"/>
<rect x="26" y="13" width="1.03" height="1.03" fill="#a0d5a6"/>
<rect x="27" y="13" width="1.03" height="1.03" fill="#80bfab"/>
<rect x="28" y="13" width="4.03" height="1.03" fill="#60a8b1"/>
<rect x="32" y="13" width="2.03" height="1.03" fill="#6bb0af"/>
<rect x="34" y="13" width="1.03" height="1.03" fill="#60a8b1"/>
<rect x="35" y="13" width="1.03" height="1.03" fill="#6bb0af"/>
<rect x="36" y="13" width="1.03" height="1.03" fill="#4092b6"/>
<rect x="37" y="13" width="1.03" height="1.03" fill="#368bb8"/>
<rect x="38" y="13" width="2.03" height="1.03" fill="#4092b6"/>
<rect x="40" y="13" width="7.03" height="1.03" fill="#4b9ab4"/>
<rect x="47" y="13" width="4.03" height="1.03" fill="#60a8b1"/>
<rect x="51" y="13" width="1.03" height="1.03" fill="#56a1b3"/>
<rect x="52" y="13" width="4.03" height="1.03" fill="#4b9ab4"/>
<rect x="56" y="13" width="1.03" height="1.03" fill="#b9e3a8"/>
<rect x="57" y="13" width="1.03" height="1.03" fill="#d5eeb2"/>
<rect x="58" y="13" width="1.03" height="1.03" fill="#f48950"/>
<rect x="1" y="14" width="1.03" height="1.03" fill="#fec278"/>
<rect x="2" y="14" width="1.03" height="1.03" fill="#ffffbf"/>
<rect x="3" y="14" width="1.03" height="1.03" fill="#d5eeb2"/>
<rect x="4" y="14" width="1.03" height="1.03" fill="#60a8b1"/>
<rect x="5" y="14" width="1.03" height="1.03" fill="#6bb0af"/>
<rect x="6" y="14" width="1.03" height="1.03" fill="#abdda4"/>
<rect x="7" y="14" width="1.03" height="1.03" fill="#b9e3a8"/>
<rect x="8" y="14" width="4.03" height="1.03" fill="#abdda4"/>
<rect x="12" y="14" width="1.03" height="1.03" fill="#a0d5a6"/>
<rect x="13" y="14" width="1.03" height="1.03" fill="#abdda4"/>
<rect x="14" y="14" width="4.03" height="1.03" fill="#b9e3a8"/>
<rect x="18" y="14" width="1.03" height="1.03" fill="#96cea8"/>
<rect x="19" y="14" width="1.03" height="1.03" fill="#80bfab"/>
<rect x="20" y="14" width="1.03" height="1.03" fill="#abdda4"/>
<rect x="21" y="14" width="1.03" height="1.03" fill="#c0e6ab"/>
<rect x="22" y="14" width="2.03" height="1.03" fill="#d5eeb2"/>
<rect x="24" y="14" width="3.03" height="1.03" fill="#abdda4"/>
<rect x="27" y="14" width="1.03" height="1.03" fill="#8bc6aa"/>
<rect x="28" y="14" width="4.03" height="1.03" fill="#6bb0af"/>
<rect x="32" y="14" width="2.03" height="1.03" fill="#76b8ad"/>
<rect x="34" y="14" width="2.03" height="1.03" fill="#6bb0af"/>
<rect x="36" y="14" width="1.03" height="1.03" fill="#4092b6"/>
<rect x="37" y="14" width="1.03" height="1.03" fill="#2b83ba"/>
<rect x="38" y="14" width="2.03" height="1.03" fill="#4092b6"/>
<rect x="40" y="14" width="1.03" height="1.03" fill="#4b9ab4"/>
<rect x="41" y="14" width="1.03" height="1.03" fill="#56a1b3"/>
<rect x="42" y="14" width="5.03" height="1.03" fill="#4b9ab4"/>
<rect x="47" y="14" width="5.03" height="1.03" fill="#56a1b3"/>
<rect x="52" y="14" width="2.03" height="1.03" fill="#4092b6"/>
<rect x="54" y="14" width="2.03" height="1.03" fill="#4b9ab4"/>
<rect x="56" y="14" width="1.03" height="1.03" fill="#abdda4"/>
<rect x="57" y="14" width="1.03" height="1.03" fill="#ceebaf"/>
<rect x="58" y="14" width="1.03" height="1.03" fill="#ed7044"/>
<rect x="1" y="15" width="1.03" height="1.03" fill="#f79556"/>
<rect x="2" y="15" width="1.03" height="1.03" fill="#fee4a0"/>
<rect x="3" y="15" width="1.03" height="1.03" fill="#dcf1b4"/>
<rect x="4" y="15" width="1.03" height="1.03" fill="#8bc6aa"/>
<rect x="5" y="15" width="1.03" height="1.03" fill="#a0d5a6"/>
<rect x="6" y="15" width="1.03" height="1.03" fill="#d5eeb2"/>
<rect x="7" y="15" width="3.03" height="1.03" fill="#dcf1b4"/>
<rect x="10" y="15" width="1.03" height="1.03" fill="#d5eeb2"/>
<rect x="11" y="15" width="1.03" height="1.03" fill="#ceebaf"/>
<rect x="12" y="15" width="2.03" height="1.03" fill="#abdda4"/>
<rect x="14" y="15" width="1.03" height="1.03" fill="#b9e3a8"/>
<rect x="15" y="15" width="1.03" height="1.03" fill="#c0e6ab"/>
<rect x="16" y="15" width="2.03" height="1.03" fill="#c7e8ad"/>
<rect x="18" y="15" width="1.03" height="1.03" fill="#c0e6ab"/>
<rect x="19" y="15" width="1.03" height="1.03" fill="#b9e3a8"/>
<rect x="20" y="15" width="5.03" height="1.03" fill="#c0e6ab"/>
<rect x="25" y="15" width="1.03" height="1.03" fill="#c7e8ad"/>
<rect x="26" y="15" width="1.03" height="1.03" fill="#ceebaf"/>
<rect x="27" y="15" width="1.03" height="1.03" fill="#c7e8ad"/>
<rect x="28" y="15" width="2.03" height="1.03" fill="#abdda4"/>
<rect x="30" y="15" width="1.03" height="1.03" fill="#6bb0af"/>
<rect x="31" y="15" width="3.03" height="1.03" fill="#60a8b1"/>
<rect x="34" y="15" width="1.03" height="1.03" fill="#80bfab"/>
<rect x="35" y="15" width="1.03" height="1.03" fill="#76b8ad"/>
<rect x="36" y="15" width="2.03" height="1.03" fill="#56a1b3"/>
<rect x="38" y="15" width="4.03" height="1.03" fill="#4b9ab4"/>
<rect x="42" y="15" width="2.03" height="1.03" fill="#4092b6"/>
<rect x="44" y="15" width="3.03" height="1.03" fill="#4b9ab4"/>
<rect x="47" y="15" width="1.03" height="1.03" fill="#56a1b3"/>
<rect x="48" y="15" width="4.03" height="1.03" fill="#4092b6"/>
<rect x="52" y="15" width="2.03" height="1.03" fill="#4b9ab4"/>
<rect x="54" y="15" width="1.03" height="1.03" fill="#60a8b1"/>
<rect x="55" y="15" width="1.03" height="1.03" fill="#80bfab"/>
<rect x="56" y="15" width="1.03" height="1.03" fill="#a0d5a6"/>
<rect x="57" y="15" width="1.03" height="1.03" fill="#c7e8ad"/>
<rect x="58" y="15" width="1.03" height="1.03" fill="#ea643f"/>
<rect x="1" y="16" width="1.03" height="1.03" fill="#f79556"/>
<rect x="2" y="16" width="1.03" height="1.03" fill="#fed690"/>
<rect x="3" y="16" width="1.03" height="1.03" fill="#eaf6b8"/>
<rect x="4" y="16" width="1.03" height="1.03" fill="#abdda4"/>
<rect x="5" y="16" width="1.03" height="1.03" fill="#c0e6ab"/>
<rect x="6" y="16" width="1.03" height="1.03" fill="#d5eeb2"/>
<rect x="7" y="16" width="1.03" height="1.03" fill="#e3f4b6"/>
<rect x="8" y="16" width="2.03" height="1.03" fill="#dcf1b4"/>
<rect x="10" y="16" width="1.03" height="1.03" fill="#d5eeb2"/>
<rect x="11" y="16" width="1.03" height="1.03" fill="#ceebaf"/>
<rect x="12" y="16" width="2.03" height="1.03" fill="#abdda4"/>
<rect x="14" y="16" width="4.03" height="1.03" fill="#b9e3a8"/>
<rect x="18" y="16" width="2.03" height="1.03" fill="#abdda4"/>
<rect x="20" y="16" width="2.03" height="1.03" fill="#b9e3a8"/>
<rect x="22" y="16" width="4.03" height="1.03" fill="#c0e6ab"/>
<rect x="26" y="16" width="2.03" height="1.03" fill="#c7e8ad"/>
<rect x="28" y="16" width="2.03" height="1.03" fill="#abdda4"/>
<rect x="30" y="16" width="1.03" height="1.03" fill="#6bb0af"/>
<rect x="31" y="16" width="2.03" height="1.03" fill="#60a8b1"/>
<rect x="33" y="16" width="1.03" height="1.03" fill="#6bb0af"/>
<rect x="34" y="16" width="1.03" height="1.03" fill="#80bfab"/>
<rect x="35" y="16" width="1.03" height="1.03" fill="#76b8ad"/>
<rect x="36" y="16" width="1.03" height="1.03" fill="#60a8b1"/>
<rect x="37" y="16" width="5.03" height="1.03" fill="#56a1b3"/>
<rect x="42" y="16" width="2.03" height="1.03" fill="#4092b6"/>
<rect x="44" y="16" width="4.03" height="1.03" fill="#4b9ab4"/>
<rect x="48" y="16" width="2.03" height="1.03" fill="#368bb8"/>
<rect x="50" y="16" width="2.03" height="1.03" fill="#4092b6"/>
<rect x="52" y="16" width="2.03" height="1.03" fill="#56a1b3"/>
<rect x="54" y="16" width="1.03" height="1.03" fill="#80bfab"/>
<rect x="55" y="16" width="1.03" height="1.03" fill="#8bc6aa"/>
<rect x="56" y="16" width="1.03" height="1.03" fill="#abdda4"/>
<rect x="57" y="16" width="1.03" height="1.03" fill="#c7e8ad"/>
<rect x="58" y="16" width="1.03" height="1.03" fill="#f48950"/>
<rect x="1" y="17" width="1.03" height="1.03" fill="#f79556"/>
<rect x="2" y="17" width="1.03" height="1.03" fill="#fed690"/>
<rect x="3" y="17" width="1.03" height="1.03" fill="#eaf6b8"/>
<rect x="4" y="17" width="1.03" height="1.03" fill="#a0d5a6"/>
<rect x="5" y="17" width="3.03" height="1.03" fill="#c0e6ab"/>
<rect x="8" y="17" width="2.03" height="1.03" fill="#a0d5a6"/>
<rect x="10" y="17" width="1.03" height="1.03" fill="#abdda4"/>
<rect x="11" y="17" width="1.03" height="1.03" fill="#b9e3a8"/>
<rect x="12" y="17" width="2.03" height="1.03" fill="#96cea8"/>
<rect x="14" y="17" width="1.03" height="1.03" fill="#abdda4"/>
<rect x="15" y="17" width="1.03" height="1.03" fill="#a0d5a6"/>
<rect x="16" y="17" width="1.03" height="1.03" fill="#80bfab"/>
<rect x="17" y="17" width="1.03" height="1.03" fill="#8bc6aa"/>
<rect x="18" y="17" width="2.03" height="1.03" fill="#a0d5a6"/>
<rect x="20" y="17" width="2.03" height="1.03" fill="#b9e3a8"/>
<rect x="22" y="17" width="4.03" height="1.03" fill="#a0d5a6"/>
<rect x="26" y="17" width="4.03" height="1.03" fill="#b9e3a8"/>
<rect x="30" y="17" width="1.03" height="1.03" fill="#8bc6aa"/>
<rect x="31" y="17" width="5.03" height="1.03" fill="#80bfab"/>
<rect x="36" y="17" width="2.03" height="1.03" fill="#8bc6aa"/>
<rect x="38" y="17" width="1.03" height="1.03" fill="#80bfab"/>
<rect x="39" y="17" width="1.03" height="1.03" fill="#76b8ad"/>
<rect x="40" y="17" width="2.03" height="1.03" fill="#6bb0af"/>
<rect x="42" y="17" width="1.03" height="1.03" fill="#4b9ab4"/>
<rect x="43" y="17" width="1.03" height="1.03" fill="#4092b6"/>
<rect x="44" y="17" width="1.03" height="1.03" fill="#4b9ab4"/>
<rect x="45" y="17" width="2.03" height="1.03" fill="#56a1b3"/>
<rect x="47" y="17" width="5.03" height="1.03" fill="#4b9ab4"/>
<rect x="52" y="17" width="2.03" height="1.03" fill="#56a1b3"/>
<rect x="54" y="17" width="1.03" height="1.03" fill="#76b8ad"/>
<rect x="55" y="17" width="1.03" height="1.03" fill="#80bfab"/>
<rect x="56" y="17" width="1.03" height="1.03" fill="#abdda4"/>
<rect x="57" y="17" width="1.03" height="1.03" fill="#c7e8ad"/>
<rect x="58" y="17" width="1.03" height="1.03" fill="#fec278"/>
<rect x="1" y="18" width="1.03" height="1.03" fill="#f79556"/>
<rect x="2" y="18" width="1.03" height="1.03" fill="#fedd98"/>
<rect x="3" y="18" width="1.03" height="1.03" fill="#eaf6b8"/>
<rect x="4" y="18" width="1.03" height="1.03" fill="#abdda4"/>
<rect x="5" y="18" width="3.03" height="1.03" fill="#c0e6ab"/>
<rect x="8" y="18" width="2.03" height="1.03" fill="#a0d5a6"/>
<rect x="10" y="18" width="1.03" height="1.03" fill="#abdda4"/>
<rect x="11" y="18" width="1.03" height="1.03" fill="#b9e3a8"/>
<rect x="12" y="18" width="2.03" height="1.03" fill="#96cea8"/>
<rect x="14" y="18" width="2.03" height="1.03" fill="#abdda4"/>
<rect x="16" y="18" width="1.03" height="1.03" fill="#8bc6aa"/>
<rect x="17" y="18" width="1.03" height="1.03" fill="#96cea8"/>
<rect x="18" y="18" width="2.03" height="1.03" fill="#abdda4"/>
<rect x="20" y="18" width="1.03" height="1.03" fill="#b9e3a8"/>
<rect x="21" y="18" width="1.03" height="1.03" fill="#c7e8ad"/>
<rect x="22" y="18" width="1.03" height="1.03" fill="#b9e3a8"/>
<rect x="23" y="18" width="3.03" height="1.03" fill="#abdda4"/>
<rect x="26" y="18" width="2.03" height="1.03" fill="#b9e3a8"/>
<rect x="28" y="18" width="2.03" height="1.03" fill="#c0e6ab"/>
<rect x="30" y="18" width="1.03" height="1.03" fill="#a0d5a6"/>
<rect x="31" y="18" width="3.03" height="1.03" fill="#8bc6aa"/>
<rect x="34" y="18" width="2.03" height="1.03" fill="#80bfab"/>
<rect x="36" y="18" width="1.03" height="1.03" fill="#a0d5a6"/>
<rect x="37" y="18" width="2.03" height="1.03" fill="#abdda4"/>
<rect x="39" y="18" width="1.03" height="1.03" fill="#a0d5a6"/>
<rect x="40" y="18" width="1.03" height="1.03" fill="#8bc6aa"/>
<rect x="41" y="18" width="1.03" height="1.03" fill="#76b8ad"/>
<rect x="42" y="18" width="1.03" height="1.03" fill="#56a1b3"/>
<rect x="43" y="18" width="1.03" height="1.03" fill="#4092b6"/>
<rect x="44" y="18" width="1.03" height="1.03" fill="#4b9ab4"/>
<rect x="45" y="18" width="2.03" height="1.03" fill="#60a8b1"/>
<rect x="47" y="18" width="1.03" height="1.03" fill="#4b9ab4"/>
<rect x="48" y="18" width="3.03" height="1.03" fill="#4092b6"/>
<rect x="51" y="18" width="1.03" height="1.03" fill="#4b9ab4"/>
<rect x="52" y="18" width="2.03" height="1.03" fill="#56a1b3"/>
<rect x="54" y="18" width="1.03" height="1.03" fill="#76b8ad"/>
<rect x="55" y="18" width="1.03" height="1.03" fill="#80bfab"/>
<rect x="56" y="18" width="1.03" height="1.03" fill="#abdda4"/>
<rect x="57" y="18" width="1.03" height="1.03" fill="#c7e8ad"/>
<rect x="58" y="18" width="1.03" height="1.03" fill="#fdae61"/>
<rect x="1" y="19" width="1.03" height="1.03" fill="#fdae61"/>
<rect x="2" y="19" width="1.03" height="1.03" fill="#fedd98"/>
<rect x="3" y="19" width="1.03" height="1.03" fill="#eaf6b8"/>
<rect x="4" y="19" width="2.03" height="1.03" fill="#abdda4"/>
<rect x="6" y="19" width="1.03" height="1.03" fill="#d5eeb2"/>
<rect x="7" y="19" width="1.03" height="1.03" fill="#ceebaf"/>
<rect x="8" y="19" width="2.03" height="1.03" fill="#abdda4"/>
<rect x="10" y="19" width="2.03" height="1.03" fill="#c0e6ab"/>
<rect x="12" y="19" width="2.03" height="1.03" fill="#96cea8"/>
<rect x="14" y="19" width="11.03" height="1.03" fill="#abdda4"/>
<rect x="25" y="19" width="1.03" height="1.03" fill="#b9e3a8"/>
<rect x="26" y="19" width="5.03" height="1.03" fill="#abdda4"/>
<rect x="31" y="19" width="1.03" height="1.03" fill="#a0d5a6"/>
<rect x="32" y="19" width="3.03" height="1.03" fill="#8bc6aa"/>
<rect x="35" y="19" width="1.03" height="1.03" fill="#76b8ad"/>
<rect x="36" y="19" width="1.03" height="1.03" fill="#8bc6aa"/>
<rect x="37" y="19" width="3.03" height="1.03" fill="#abdda4"/>
<rect x="40" y="19" width="1.03" height="1.03" fill="#a0d5a6"/>
<rect x="41" y="19" width="1.03" height="1.03" fill="#80bfab"/>
<rect x="42" y="19" width="1.03" height="1.03" fill="#60a8b1"/>
<rect x="43" y="19" width="4.03" height="1.03" fill="#6bb0af"/>
<rect x="47" y="19" width="1.03" height="1.03" fill="#60a8b1"/>
<rect x="48" y="19" width="4.03" height="1.03" fill="#4b9ab4"/>
<rect x="52" y="19" width="2.03" height="1.03" fill="#56a1b3"/>
<rect x="54" y="19" width="1.03" height="1.03" fill="#6bb0af"/>
<rect x="55" y="19" width="1.03" height="1.03" fill="#76b8ad"/>
<rect x="56" y="19" width="1.03" height="1.03" fill="#a0d5a6"/>
<rect x="57" y="19" width="1.03" height="1.03" fill="#b9e3a8"/>
<rect x="58" y="19" width="1.03" height="1.03" fill="#faa15b"/>
<rect x="1" y="20" width="1.03" height="1.03" fill="#fdae61"/>
<rect x="2" y="20" width="1.03" height="1.03" fill="#fedd98"/>
<rect x="3" y="20" width="1.03" height="1.03" fill="#eaf6b8"/>
<rect x="4" y="20" width="2.03" height="1.03" fill="#abdda4"/>
<rect x="6" y="20" width="2.03" height="1.03" fill="#ceebaf"/>
<rect x="8" y="20" width="1.03" height="1.03" fill="#96cea8"/>
<rect x="9" y="20" width="1.03" height="1.03" fill="#abdda4"/>
<rect x="10" y="20" width="2.03" height="1.03" fill="#b9e3a8"/>
<rect x="12" y="20" width="2.03" height="1.03" fill="#8bc6aa"/>
<rect x="14" y="20" width="7.03" height="1.03" fill="#abdda4"/>
<rect x="21" y="20" width="3.03" height="1.03" fill="#a0d5a6"/>
<rect x="24" y="20" width="1.03" height="1.03" fill="#abdda4"/>
<rect x="25" y="20" width="1.03" height="1.03" fill="#b9e3a8"/>
<rect x="26" y="20" width="2.03" height="1.03" fill="#abdda4"/>
<rect x="28" y="20" width="1.03" height="1.03" fill="#a0d5a6"/>
<rect x="29" y="20" width="1.03" height="1.03" fill="#96cea8"/>
<rect x="30" y="20" width="1.03" height="1.03" fill="#a0d5a6"/>
<rect x="31" y="20" width="2.03" height="1.03" fill="#8bc6aa"/>
<rect x="33" y="20" width="3.03" height="1.03" fill="#80bfab"/>
<rect x="36" y="20" width="3.03" height="1.03" fill="#8bc6aa"/>
<rect x="39" y="20" width="1.03" height="1.03" fill="#80bfab"/>
<rect x="40" y="20" width="1.03" height="1.03" fill="#76b8ad"/>
<rect x="41" y="20" width="2.03" height="1.03" fill="#6bb0af"/>
<rect x="43" y="20" width="1.03" height="1.03" fill="#76b8ad"/>
<rect x="44" y="20" width="1.03" height="1.03" fill="#80bfab"/>
<rect x="45" y="20" width="1.03" height="1.03" fill="#6bb0af"/>
<rect x="46" y="20" width="2.03" height="1.03" fill="#60a8b1"/>
<rect x="48" y="20" width="2.03" height="1.03" fill="#56a1b3"/>
<rect x="50" y="20" width="1.03" height="1.03" fill="#60a8b1"/>
<rect x="51" y="20" width="4.03" height="1.03" fill="#6bb0af"/>
<rect x="55" y="20" width="1.03" height="1.03" fill="#76b8ad"/>
<rect x="56" y="20" width="1.03" height="1.03" fill="#a0d5a6"/>
<rect x="57" y="20" width="1.03" height="1.03" fill="#abdda4"/>
<rect x="58" y="20" width="1.03" height="1.03" fill="#fdb569"/>
<rect x="1" y="21" width="1.03" height="1.03" fill="#faa15b"/>
<rect x="2" y="21" width="1.03" height="1.03" fill="#fec278"/>
<rect x="3" y="21" width="1.03" height="1.03" fill="#ffffbf"/>
<rect x="4" y="21" width="2.03" height="1.03" fill="#abdda4"/>
<rect x="6" y="21" width="3.03" height="1.03" fill="#c0e6ab"/>
<rect x="9" y="21" width="1.03" height="1.03" fill="#c7e8ad"/>
<rect x="10" y="21" width="2.03" height="1.03" fill="#ceebaf"/>
<rect x="12" y="21" width="1.03" height="1.03" fill="#76b8ad"/>
<rect x="13" y="21" width="1.03" height="1.03" fill="#6bb0af"/>
<rect x="14" y="21" width="3.03" height="1.03" fill="#76b8ad"/>
<rect x="17" y="21" width="1.03" height="1.03" fill="#80bfab"/>
<rect x="18" y="21" width="2.03" height="1.03" fill="#8bc6aa"/>
<rect x="20" y="21" width="4.03" height="1.03" fill="#96cea8"/>
<rect x="24" y="21" width="1.03" height="1.03" fill="#8bc6aa"/>
<rect x="25" y="21" width="1.03" height="1.03" fill="#96cea8"/>
<rect x="26" y="21" width="1.03" height="1.03" fill="#a0d5a6"/>
<rect x="27" y="21" width="1.03" height="1.03" fill="#96cea8"/>
<rect x="28" y="21" width="2.03" height="1.03" fill="#8bc6aa"/>
<rect x="30" y="21" width="1.03" height="1.03" fill="#76b8ad"/>
<rect x="31" y="21" width="5.03" height="1.03" fill="#6bb0af"/>
<rect x="36" y="21" width="2.03" height="1.03" fill="#80bfab"/>
<rect x="38" y="21" width="1.03" height="1.03" fill="#6bb0af"/>
<rect x="39" y="21" width="1.03" height="1.03" fill="#56a1b3"/>
<rect x="40" y="21" width="2.03" height="1.03" fill="#4b9ab4"/>
<rect x="42" y="21" width="1.03" height="1.03" fill="#76b8ad"/>
<rect x="43" y="21" width="1.03" height="1.03" fill="#96cea8"/>
<rect x="44" y="21" width="1.03" height="1.03" fill="#abdda4"/>
<rect x="45" y="21" width="1.03" height="1.03" fill="#c0e6ab"/>
<rect x="46" y="21" width="1.03" height="1.03" fill="#abdda4"/>
<rect x="47" y="21" width="1.03" height="1.03" fill="#8bc6aa"/>
<rect x="48" y="21" width="2.03" height="1.03" fill="#4b9ab4"/>
<rect x="50" y="21" width="2.03" height="1.03" fill="#368bb8"/>
<rect x="52" y="21" width="2.03" height="1.03" fill="#6bb0af"/>
<rect x="54" y="21" width="2.03" height="1.03" fill="#80bfab"/>
<rect x="56" y="21" width="1.03" height="1.03" fill="#96cea8"/>
<rect x="57" y="21" width="1.03" height="1.03" fill="#abdda4"/>
<rect x="58" y="21" width="1.03" height="1.03" fill="#fdbb71"/>
<rect x="1" y="22" width="1.03" height="1.03" fill="#faa15b"/>
<rect x="2" y="22" width="1.03" height="1.03" fill="#fec278"/>
<rect x="3" y="22" width="1.03" height="1.03" fill="#fff2af"/>
<rect x="4" y="22" width="1.03" height="1.03" fill="#b9e3a8"/>
<rect x="5" y="22" width="1.03" height="1.03" fill="#c0e6ab"/>
<rect x="6" y="22" width="2.03" height="1.03" fill="#ceebaf"/>
<rect x="8" y="22" width="1.03" height="1.03" fill="#d5eeb2"/>
<rect x="9" y="22" width="2.03" height="1.03" fill="#dcf1b4"/>
<rect x="11" y="22" width="1.03" height="1.03" fill="#d5eeb2"/>
<rect x="12" y="22" width="6.03" height="1.03" fill="#80bfab"/>
<rect x="18" y="22" width="2.03" height="1.03" fill="#8bc6aa"/>
<rect x="20" y="22" width="2.03" height="1.03" fill="#abdda4"/>
<rect x="22" y="22" width="3.03" height="1.03" fill="#96cea8"/>
<rect x="25" y="22" width="1.03" height="1.03" fill="#a0d5a6"/>
<rect x="26" y="22" width="1.03" height="1.03" fill="#abdda4"/>
<rect x="27" y="22" width="1.03" height="1.03" fill="#a0d5a6"/>
<rect x="28" y="22" width="2.03" height="1.03" fill="#abdda4"/>
<rect x="30" y="22" width="1.03" height="1.03" fill="#80bfab"/>
<rect x="31" y="22" width="3.03" height="1.03" fill="#76b8ad"/>
<rect x="34" y="22" width="2.03" height="1.03" fill="#6bb0af"/>
<rect x="36" y="22" width="2.03" height="1.03" fill="#80bfab"/>
<rect x="38" y="22" width="1.03" height="1.03" fill="#6bb0af"/>
<rect x="39" y="22" width="1.03" height="1.03" fill="#60a8b1"/>
<rect x="40" y="22" width="2.03" height="1.03" fill="#56a1b3"/>
<rect x="42" y="22" width="1.03" height="1.03" fill="#abdda4"/>
<rect x="43" y="22" width="1.03" height="1.03" fill="#c7e8ad"/>
<rect x="44" y="22" width="2.03" height="1.03" fill="#dcf1b4"/>
<rect x="46" y="22" width="1.03" height="1.03" fill="#c7e8ad"/>
<rect x="47" y="22" width="1.03" height="1.03" fill="#a0d5a6"/>
<rect x="48" y="22" width="2.03" height="1.03" fill="#56a1b3"/>
<rect x="50" y="22" width="2.03" height="1.03" fill="#368bb8"/>
<rect x="52" y="22" width="2.03" height="1.03" fill="#6bb0af"/>
<rect x="54" y="22" width="2.03" height="1.03" fill="#8bc6aa"/>
<rect x="56" y="22" width="1.03" height="1.03" fill="#96cea8"/>
<rect x="57" y="22" width="1.03" height="1.03" fill="#a0d5a6"/>
<rect x="58" y="22" width="1.03" height="1.03" fill="#fdbb71"/>
<rect x="1" y="23" width="1.03" height="1.03" fill="#f48950"/>
<rect x="2" y="23" width="1.03" height="1.03" fill="#fec278"/>
<rect x="3" y="23" width="1.03" height="1.03" fill="#fedd98"/>
<rect x="4" y="23" width="4.03" height="1.03" fill="#c0e6ab"/>
<rect x="8" y="23" width="1.03" height="1.03" fill="#c7e8ad"/>
<rect x="9" y="23" width="1.03" height="1.03" fill="#ceebaf"/>
<rect x="10" y="23" width="2.03" height="1.03" fill="#b9e3a8"/>
<rect x="12" y="23" width="2.03" height="1.03" fill="#80bfab"/>
<rect x="14" y="23" width="1.03" height="1.03" fill="#8bc6aa"/>
<rect x="15" y="23" width="1.03" height="1.03" fill="#a0d5a6"/>
<rect x="16" y="23" width="2.03" height="1.03" fill="#76b8ad"/>
<rect x="18" y="23" width="2.03" height="1.03" fill="#6bb0af"/>
<rect x="20" y="23" width="4.03" height="1.03" fill="#8bc6aa"/>
<rect x="24" y="23" width="3.03" height="1.03" fill="#80bfab"/>
<rect x="27" y="23" width="4.03" height="1.03" fill="#76b8ad"/>
<rect x="31" y="23" width="1.03" height="1.03" fill="#6bb0af"/>
<rect x="32" y="23" width="2.03" height="1.03" fill="#76b8ad"/>
<rect x="34" y="23" width="2.03" height="1.03" fill="#6bb0af"/>
<rect x="36" y="23" width="1.03" height="1.03" fill="#56a1b3"/>
<rect x="37" y="23" width="4.03" height="1.03" fill="#4b9ab4"/>
<rect x="41" y="23" width="1.03" height="1.03" fill="#56a1b3"/>
<rect x="42" y="23" width="1.03" height="1.03" fill="#76b8ad"/>
<rect x="43" y="23" width="1.03" height="1.03" fill="#80bfab"/>
<rect x="44" y="23" width="1.03" height="1.03" fill="#8bc6aa"/>
<rect x="45" y="23" width="5.03" height="1.03" fill="#6bb0af"/>
<rect x="50" y="23" width="2.03" height="1.03" fill="#4b9ab4"/>
<rect x="52" y="23" width="2.03" height="1.03" fill="#60a8b1"/>
<rect x="54" y="23" width="2.03" height="1.03" fill="#6bb0af"/>
<rect x="56" y="23" width="1.03" height="1.03" fill="#80bfab"/>
<rect x="57" y="23" width="1.03" height="1.03" fill="#96cea8"/>
<rect x="58" y="23" width="1.03" height="1.03" fill="#fdbb71"/>
<rect x="1" y="24" width="1.03" height="1.03" fill="#faa15b"/>
<rect x="2" y="24" width="1.03" height="1.03" fill="#fec278"/>
<rect x="3" y="24" width="1.03" height="1.03" fill="#fedd98"/>
<rect x="4" y="24" width="1.03" height="1.03" fill="#c0e6ab"/>
<rect x="5" y="24" width="1.03" height="1.03" fill="#abdda4"/>
<rect x="6" y="24" width="4.03" height="1.03" fill="#c0e6ab"/>
<rect x="10" y="24" width="2.03" height="1.03" fill="#abdda4"/>
<rect x="12" y="24" width="2.03" height="1.03" fill="#76b8ad"/>
<rect x="14" y="24" width="1.03" height="1.03" fill="#80bfab"/>
<rect x="15" y="24" width="1.03" height="1.03" fill="#a0d5a6"/>
<rect x="16" y="24" width="4.03" height="1.03" fill="#6bb0af"/>
<rect x="20" y="24" width="1.03" height="1.03" fill="#80bfab"/>
<rect x="21" y="24" width="4.03" height="1.03" fill="#8bc6aa"/>
<rect x="25" y="24" width="3.03" height="1.03" fill="#80bfab"/>
<rect x="28" y="24" width="3.03" height="1.03" fill="#76b8ad"/>
<rect x="31" y="24" width="1.03" height="1.03" fill="#6bb0af"/>
<rect x="32" y="24" width="2.03" height="1.03" fill="#76b8ad"/>
<rect x="34" y="24" width="2.03" height="1.03" fill="#6bb0af"/>
<rect x="36" y="24" width="1.03" height="1.03" fill="#56a1b3"/>
<rect x="37" y="24" width="2.03" height="1.03" fill="#4b9ab4"/>
<rect x="39" y="24" width="2.03" height="1.03" fill="#56a1b3"/>
<rect x="41" y="24" width="1.03" height="1.03" fill="#60a8b1"/>
<rect x="42" y="24" width="2.03" height="1.03" fill="#76b8ad"/>
<rect x="44" y="24" width="1.03" height="1.03" fill="#80bfab"/>
<rect x="45" y="24" width="3.03" height="1.03" fill="#6bb0af"/>
<rect x="48" y="24" width="2.03" height="1.03" fill="#76b8ad"/>
<rect x="50" y="24" width="2.03" height="1.03" fill="#56a1b3"/>
<rect x="52" y="24" width="4.03" height="1.03" fill="#60a8b1"/>
<rect x="56" y="24" width="1.03" height="1.03" fill="#80bfab"/>
<rect x="57" y="24" width="1.03" height="1.03" fill="#8bc6aa"/>
<rect x="58" y="24" width="1.03" height="1.03" fill="#fec278"/>
<rect x="59" y="24" width="1.03" height="1.03" fill="#f79556"/>
<rect x="1" y="25" width="1.03" height="1.03" fill="#faa15b"/>
<rect x="2" y="25" width="1.03" height="1.03" fill="#f48950"/>
<rect x="3" y="25" width="1.03" height="1.03" fill="#fec278"/>
<rect x="4" y="25" width="1.03" height="1.03" fill="#ffffbf"/>
<rect x="5" y="25" width="1.03" height="1.03" fill="#f8fcbd"/>
<rect x="6" y="25" width="4.03" height="1.03" fill="#ffffbf"/>
<rect x="10" y="25" width="2.03" height="1.03" fill="#d5eeb2"/>
<rect x="12" y="25" width="2.03" height="1.03" fill="#c0e6ab"/>
<rect x="14" y="25" width="4.03" height="1.03" fill="#b9e3a8"/>
<rect x="18" y="25" width="3.03" height="1.03" fill="#c0e6ab"/>
<rect x="21" y="25" width="3.03" height="1.03" fill="#c7e8ad"/>
<rect x="24" y="25" width="2.03" height="1.03" fill="#ceebaf"/>
<rect x="26" y="25" width="4.03" height="1.03" fill="#d5eeb2"/>
<rect x="30" y="25" width="1.03" height="1.03" fill="#ceebaf"/>
<rect x="31" y="25" width="1.03" height="1.03" fill="#c7e8ad"/>
<rect x="32" y="25" width="1.03" height="1.03" fill="#c0e6ab"/>
<rect x="33" y="25" width="2.03" height="1.03" fill="#b9e3a8"/>
<rect x="35" y="25" width="6.03" height="1.03" fill="#abdda4"/>
<rect x="41" y="25" width="2.03" height="1.03" fill="#b9e3a8"/>
<rect x="43" y="25" width="1.03" height="1.03" fill="#c0e6ab"/>
<rect x="44" y="25" width="3.03" height="1.03" fill="#c7e8ad"/>
<rect x="47" y="25" width="1.03" height="1.03" fill="#c0e6ab"/>
<rect x="48" y="25" width="2.03" height="1.03" fill="#c7e8ad"/>
<rect x="50" y="25" width="2.03" height="1.03" fill="#abdda4"/>
<rect x="52" y="25" width="2.03" height="1.03" fill="#a0d5a6"/>
<rect x="54" y="25" width="1.03" height="1.03" fill="#abdda4"/>
<rect x="55" y="25" width="1.03" height="1.03" fill="#b9e3a8"/>
<rect x="56" y="25" width="1.03" height="1.03" fill="#ceebaf"/>
<rect x="57" y="25" width="1.03" height="1.03" fill="#dcf1b4"/>
<rect x="58" y="25" width="2.03" height="1.03" fill="#ea643f"/>
<rect x="1" y="26" width="2.03" height="1.03" fill="#faa15b"/>
<rect x="3" y="26" width="1.03" height="1.03" fill="#fec278"/>
<rect x="4" y="26" width="6.03" height="1.03" fill="#fedd98"/>
<rect x="10" y="26" width="2.03" height="1.03" fill="#eaf6b8"/>
<rect x="12" y="26" width="3.03" height="1.03" fill="#b9e3a8"/>
<rect x="15" y="26" width="1.03" height="1.03" fill="#c0e6ab"/>
<rect x="16" y="26" width="1.03" height="1.03" fill="#c7e8ad"/>
<rect x="17" y="26" width="1.03" height="1.03" fill="#ceebaf"/>
<rect x="18" y="26" width="3.03" height="1.03" fill="#d5eeb2"/>
<rect x="21" y="26" width="1.03" height="1.03" fill="#dcf1b4"/>
<rect x="22" y="26" width="2.03" height="1.03" fill="#e3f4b6"/>
<rect x="24" y="26" width="2.03" height="1.03" fill="#eaf6b8"/>
<rect x="26" y="26" width="2.03" height="1.03" fill="#f8fcbd"/>
<rect x="28" y="26" width="2.03" height="1.03" fill="#eaf6b8"/>
<rect x="30" y="26" width="1.03" height="1.03" fill="#e3f4b6"/>
<rect x="31" y="26" width="1.03" height="1.03" fill="#d5eeb2"/>
<rect x="32" y="26" width="1.03" height="1.03" fill="#ceebaf"/>
<rect x="33" y="26" width="3.03" height="1.03" fill="#c0e6ab"/>
<rect x="36" y="26" width="1.03" height="1.03" fill="#b9e3a8"/>
<rect x="37" y="26" width="1.03" height="1.03" fill="#c0e6ab"/>
<rect x="38" y="26" width="3.03" height="1.03" fill="#c7e8ad"/>
<rect x="41" y="26" width="1.03" height="1.03" fill="#ceebaf"/>
<rect x="42" y="26" width="2.03" height="1.03" fill="#d5eeb2"/>
<rect x="44" y="26" width="1.03" height="1.03" fill="#dcf1b4"/>
<rect x="45" y="26" width="5.03" height="1.03" fill="#d5eeb2"/>
<rect x="50" y="26" width="2.03" height="1.03" fill="#c0e6ab"/>
<rect x="52" y="26" width="2.03" height="1.03" fill="#b9e3a8"/>
<rect x="54" y="26" width="1.03" height="1.03" fill="#c0e6ab"/>
<rect x="55" y="26" width="1.03" height="1.03" fill="#c7e8ad"/>
<rect x="56" y="26" width="1.03" height="1.03" fill="#e3f4b6"/>
<rect x="57" y="26" width="1.03" height="1.03" fill="#f8fcbd"/>
<rect x="58" y="26" width="1.03" height="1.03" fill="#e03e2d"/>
<rect x="59" y="26" width="1.03" height="1.03" fill="#f79556"/>
</g>
<g clip-path="url(#rc)"><use href="#rs" filter="url(#bl)"/></g>
<polygon points="146.5,152.5 2256.5,202 2273,1211 164,1127.5" fill="none" stroke="#000" stroke-width="3.2" stroke-linejoin="miter"/>
<g fill="none" stroke="#111" stroke-width="2.2">
<polygon points="212.0,222.0 393.0,228.5 388.3,358.3 207.3,351.8"/>
<polygon points="393.0,228.5 574.0,235.0 569.3,364.8 388.3,358.3"/>
<polygon points="207.3,351.8 388.3,358.3 383.6,488.1 202.6,481.6"/>
<polygon points="388.3,358.3 569.3,364.8 564.6,494.6 383.6,488.1"/>
<polygon points="383.6,488.1 564.6,494.6 559.9,624.4 378.9,617.9"/>
<polygon points="1660.0,274.0 1841.0,280.5 1836.3,410.3 1655.3,403.8"/>
<polygon points="1841.0,280.5 2022.0,287.0 2017.3,416.8 1836.3,410.3"/>
<polygon points="1655.3,403.8 1836.3,410.3 1831.6,540.1 1650.6,533.6"/>
<polygon points="1836.3,410.3 2017.3,416.8 2012.6,546.6 1831.6,540.1"/>
<polygon points="1650.6,533.6 1831.6,540.1 1826.9,669.9 1645.9,663.4"/>
<polygon points="1831.6,540.1 2012.6,546.6 2007.9,676.4 1826.9,669.9"/>
<polygon points="2012.6,546.6 2193.6,553.1 2188.9,682.9 2007.9,676.4"/>
<polygon points="1826.9,669.9 2007.9,676.4 2003.2,806.2 1822.2,799.7"/>
<polygon points="2003.2,806.2 2184.2,812.7 2179.5,942.5 1998.5,936.0"/>
<polygon points="1998.5,936.0 2179.5,942.5 2174.8,1072.3 1993.8,1065.8"/>
<polygon points="1993.8,1065.8 2174.8,1072.3 2170.1,1202.1 1989.1,1195.6"/>
<polygon points="1460.2,786.7 1641.2,793.2 1636.5,923.0 1455.5,916.5"/>
<polygon points="1455.5,916.5 1636.5,923.0 1631.8,1052.8 1450.8,1046.3"/>
<polygon points="1636.5,923.0 1817.5,929.5 1812.8,1059.3 1631.8,1052.8"/>
<polygon points="1450.8,1046.3 1631.8,1052.8 1627.1,1182.6 1446.1,1176.1"/>
<polygon points="1631.8,1052.8 1812.8,1059.3 1808.1,1189.1 1627.1,1182.6"/>
</g>
<text class="b pl" transform="translate(300.1,280.6) scale(.92,1)">FOR1</text><text class="b pl" transform="translate(300.1,324.6) scale(.92,1)">350</text>
<text class="b pl" transform="translate(481.1,287.1) scale(.92,1)">FOR1</text><text class="b pl" transform="translate(481.1,331.1) scale(.92,1)">90</text>
<text class="b pl" transform="translate(295.5,410.5) scale(.92,1)">FOR1</text><text class="b pl" transform="translate(295.5,454.5) scale(.92,1)">180</text>
<text class="b pl" transform="translate(476.5,417.0) scale(.92,1)">FOR1</text><text class="b pl" transform="translate(476.5,461.0) scale(.92,1)">10</text>
<text class="b pl" transform="translate(471.8,546.8) scale(.92,1)">FOR1</text><text class="b pl" transform="translate(471.8,590.8) scale(.92,1)">300</text>
<text class="b pl" transform="translate(1748.2,332.6) scale(.92,1)">JOL1</text><text class="b pl" transform="translate(1748.2,376.6) scale(.92,1)">300</text>
<text class="b pl" transform="translate(1929.2,339.1) scale(.92,1)">JOL1</text><text class="b pl" transform="translate(1929.2,383.1) scale(.92,1)">90</text>
<text class="b pl" transform="translate(1743.4,462.5) scale(.92,1)">JOL1</text><text class="b pl" transform="translate(1743.4,506.5) scale(.92,1)">350</text>
<text class="b pl" transform="translate(1924.4,469.0) scale(.92,1)">JOL1</text><text class="b pl" transform="translate(1924.4,513.0) scale(.92,1)">10</text>
<text class="b pl" transform="translate(1738.8,592.2) scale(.92,1)">CDS2</text><text class="b pl" transform="translate(1738.8,636.2) scale(.92,1)">10</text>
<text class="b pl" transform="translate(2100.8,605.2) scale(.92,1)">JOL1</text><text class="b pl" transform="translate(2100.8,649.2) scale(.92,1)">180</text>
<text class="b pl" transform="translate(1915.1,728.6) scale(.92,1)">CDS2</text><text class="b pl" transform="translate(1915.1,772.6) scale(.92,1)">350</text>
<text class="b pl" transform="translate(2091.3,864.9) scale(.92,1)">CDS2</text><text class="b pl" transform="translate(2091.3,908.9) scale(.92,1)">180</text>
<text class="b pl" transform="translate(2086.7,994.7) scale(.92,1)">CDS2</text><text class="b pl" transform="translate(2086.7,1038.7) scale(.92,1)">90</text>
<text class="b pl" transform="translate(2081.9,1124.5) scale(.92,1)">CDS2</text><text class="b pl" transform="translate(2081.9,1168.5) scale(.92,1)">300</text>
<text class="b pl" transform="translate(1548.3,845.4) scale(.92,1)">JOL3</text><text class="b pl" transform="translate(1548.3,889.4) scale(.92,1)">90</text>
<text class="b pl" transform="translate(1543.7,975.2) scale(.92,1)">JOL3</text><text class="b pl" transform="translate(1543.7,1019.2) scale(.92,1)">300</text>
<text class="b pl" transform="translate(1724.7,981.7) scale(.92,1)">JOL3</text><text class="b pl" transform="translate(1724.7,1025.7) scale(.92,1)">10</text>
<text class="b pl" transform="translate(1538.9,1105.0) scale(.92,1)">JOL3</text><text class="b pl" transform="translate(1538.9,1149.0) scale(.92,1)">350</text>
<text class="b pl" transform="translate(1719.9,1111.5) scale(.92,1)">JOL3</text><text class="b pl" transform="translate(1719.9,1155.5) scale(.92,1)">180</text>
<rect x="1483" y="1541.5" width="725.2" height="24" fill="#fff" stroke="#000" stroke-width="1.5"/>
<rect x="1483" y="1541.5" width="181.3" height="24" fill="#000"/><rect x="1845.6" y="1541.5" width="181.3" height="24" fill="#000"/>
<text class="b sb" transform="translate(1483.0,1517) scale(.91,1)">0</text>
<text class="b sb" transform="translate(1664.3,1517) scale(.91,1)">50</text>
<text class="b sb" transform="translate(1845.6,1517) scale(.91,1)">100</text>
<text class="b sb" transform="translate(2026.9,1517) scale(.91,1)">150</text>
<text class="b sb" style="text-anchor:start" transform="translate(2175.2,1517) scale(.91,1)">200 m</text>
<text transform="translate(2140.3,1316) scale(.93,1)" text-anchor="middle" style="font-family:'Liberation Sans',sans-serif;font-size:47px;fill:#111">N</text>
<defs><pattern id="ht" width="4.5" height="9" patternUnits="userSpaceOnUse"><rect width="4.5" height="9" fill="#fff"/><path d="M2 1V6.5" stroke="#b4b4b4" stroke-width="1.8"/></pattern></defs>
<polygon points="2140.5,1318.5 2089,1447.5 2140.5,1394.5" fill="url(#ht)"/>
<path d="M2089 1447.5L2140.5 1394.5L2191.5 1447.5" fill="none" stroke="#777" stroke-width="1.9"/>
<path d="M2089 1447.5L2140.5 1318.5L2191.5 1447.5" fill="none" stroke="#2a2a2a" stroke-width="2.3" stroke-dasharray="2.6 2.6"/>
<line x1="323" y1="111" x2="323" y2="1609" stroke="#9a9a9a" stroke-opacity=".45" stroke-width="5.6"/><line x1="323" y1="111" x2="323" y2="1609" stroke="#5a5a5a" stroke-width="2"/>
<line x1="1353" y1="111" x2="1353" y2="1609" stroke="#9a9a9a" stroke-opacity=".45" stroke-width="5.6"/><line x1="1353" y1="111" x2="1353" y2="1609" stroke="#5a5a5a" stroke-width="2"/>
<line x1="838.3" y1="111" x2="838.3" y2="1609" stroke="#2a2a2a" stroke-width="3.3"/>
<line x1="1866.4" y1="111" x2="1866.4" y2="1609" stroke="#2a2a2a" stroke-width="3.3"/>
<line x1="116" y1="423" x2="2293" y2="423" stroke="#262626" stroke-width="3"/>
<line x1="116" y1="935" x2="2293" y2="935" stroke="#262626" stroke-width="3"/>
<line x1="116" y1="1449" x2="2293" y2="1449" stroke="#262626" stroke-width="3"/>
<g fill="none" stroke="#a8a8a8" stroke-width="2.6"><rect x="104" y="98" width="2189" height="1511"/><line x1="116" y1="111" x2="2293" y2="111"/><line x1="2293" y1="98" x2="2304" y2="98" stroke="#bbb"/><line x1="104" y1="1609" x2="104" y2="1621"/><line x1="2293" y1="1609" x2="2304" y2="1609" stroke="#aaa"/></g>
<g fill="#000">
<rect x="116" y="98" width="207" height="13"/><rect x="116" y="1609" width="207" height="12"/>
<rect x="838" y="98" width="515" height="13"/><rect x="838" y="1609" width="515" height="12"/>
<rect x="1866" y="98" width="427" height="13"/><rect x="1866" y="1609" width="427" height="12"/>
<rect x="105" y="111" width="12" height="312"/><rect x="2293" y="111" width="11" height="312"/>
<rect x="105" y="935" width="12" height="514"/><rect x="2293" y="935" width="11" height="514"/>
</g>
<rect x="156" y="1197" width="1206" height="404" fill="#fff" stroke="#666" stroke-width="2"/>
<rect x="172.2" y="1230" width="56.5" height="32" rx="3" fill="#fff" stroke="#000" stroke-width="2.2"/>
<text class="b lg" x="245" y="1262" textLength="1099" lengthAdjust="spacingAndGlyphs">Plots with soil classes and total N rates (kg ha-1)</text>
<text class="b lg" y="1321"><tspan x="174" textLength="87" lengthAdjust="spacingAndGlyphs">NNI</tspan> <tspan x="277.5" textLength="94" lengthAdjust="spacingAndGlyphs">map</tspan> <tspan x="386.7" textLength="49.6" lengthAdjust="spacingAndGlyphs">on</tspan> <tspan x="455.3" textLength="291" lengthAdjust="spacingAndGlyphs">experimental</tspan> <tspan x="763" textLength="96.6" lengthAdjust="spacingAndGlyphs">field</tspan></text>
<rect x="172" y="1352.5" width="56" height="33" fill="#d7191c" stroke="#999" stroke-width="1"/>
<text class="b lg" x="245" y="1383" textLength="70" lengthAdjust="spacingAndGlyphs">0.2</text>
<rect x="172" y="1401.5" width="56" height="33" fill="#fdae61" stroke="#999" stroke-width="1"/>
<text class="b lg" x="245" y="1432" textLength="70" lengthAdjust="spacingAndGlyphs">0.4</text>
<rect x="172" y="1450.5" width="56" height="33" fill="#ffffbf" stroke="#999" stroke-width="1"/>
<text class="b lg" x="245" y="1481" textLength="70" lengthAdjust="spacingAndGlyphs">0.6</text>
<rect x="172" y="1501.5" width="56" height="33" fill="#abdda4" stroke="#999" stroke-width="1"/>
<text class="b lg" x="245" y="1532" textLength="70" lengthAdjust="spacingAndGlyphs">0.8</text>
<rect x="172" y="1550.5" width="56" height="33" fill="#2b83ba" stroke="#999" stroke-width="1"/>
<text class="b lg" x="245" y="1581" textLength="70" lengthAdjust="spacingAndGlyphs">0.1</text>
<text class="t" text-anchor="middle" transform="translate(323,91) scale(1,1.07)">1328800</text>
<text class="t" text-anchor="middle" transform="translate(838,91) scale(1,1.07)">1329000</text>
<text class="t" text-anchor="middle" transform="translate(1353,91) scale(1,1.07)">1329200</text>
<text class="t" text-anchor="middle" transform="translate(1866,91) scale(1,1.07)">1329400</text>
<text class="t" text-anchor="middle" transform="translate(96.5,423) rotate(-90) scale(1,1.07)">5601800</text>
<text class="t" text-anchor="middle" transform="translate(96.5,935) rotate(-90) scale(1,1.07)">5601600</text>
<text class="t" text-anchor="middle" transform="translate(96.5,1449) rotate(-90) scale(1,1.07)">5601400</text>
</svg></body></html>
